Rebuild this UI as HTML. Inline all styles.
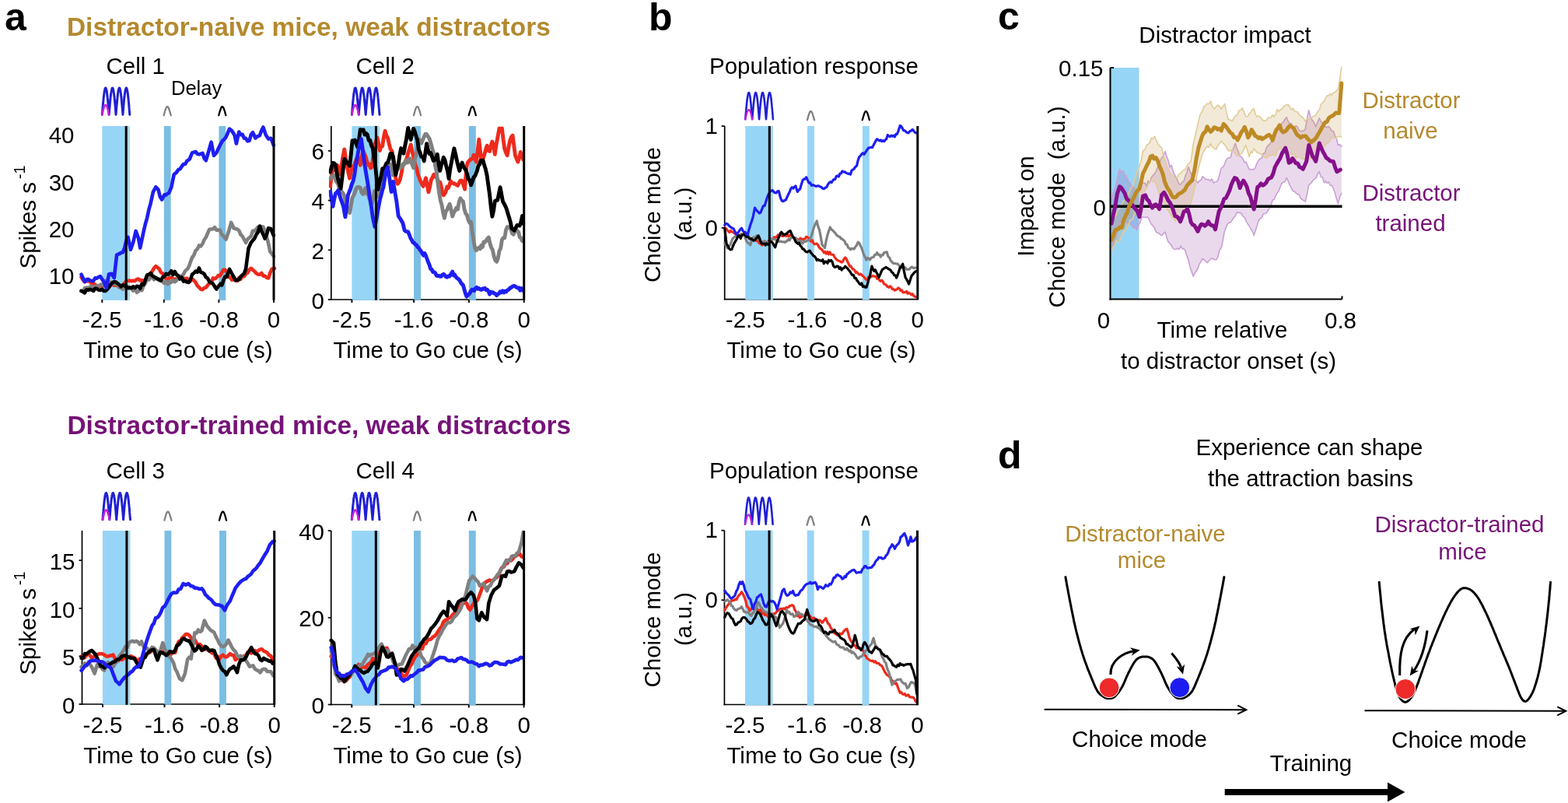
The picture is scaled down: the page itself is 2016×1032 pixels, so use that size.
<!DOCTYPE html>
<html><head><meta charset="utf-8"><style>html,body{margin:0;padding:0;background:#fff;overflow:hidden;}svg{display:block;}</style></head>
<body><svg width="2016" height="1032" viewBox="0 0 2016 1032" font-family="Liberation Sans, Arial, sans-serif"><text x="6" y="39" font-size="50" font-weight="bold" fill="#000" text-anchor="start">a</text>
<text x="834" y="39" font-size="50" font-weight="bold" fill="#000" text-anchor="start">b</text>
<text x="1283" y="38" font-size="50" font-weight="bold" fill="#000" text-anchor="start">c</text>
<text x="1283" y="602" font-size="50" font-weight="bold" fill="#000" text-anchor="start">d</text>
<text x="86" y="46" font-size="33.4" font-weight="bold" fill="#b4892e" text-anchor="start">Distractor-naive mice, weak distractors</text>
<text x="86.5" y="558.2" font-size="33.4" font-weight="bold" fill="#761278" text-anchor="start">Distractor-trained mice, weak distractors</text>
<rect x="131.3" y="162.0" width="35.3" height="223.9" fill="#97d5f7"/>
<rect x="162.6" y="162.0" width="4.0" height="223.9" fill="#a9d8e6"/>
<rect x="210.8" y="162.0" width="8.8" height="223.9" fill="#7bbde3"/>
<rect x="281.4" y="162.0" width="8.8" height="223.9" fill="#7bbde3"/>
<line x1="425.8" y1="162.0" x2="425.8" y2="385.8" stroke="#000" stroke-width="1.7"/>
<line x1="425.0" y1="385.0" x2="673.7" y2="385.0" stroke="#000" stroke-width="1.7"/>
<rect x="452.4" y="162.0" width="35.4" height="223.9" fill="#97d5f7"/>
<rect x="483.8" y="162.0" width="4.0" height="223.9" fill="#a9d8e6"/>
<rect x="532.1" y="162.0" width="8.9" height="223.9" fill="#7bbde3"/>
<rect x="602.9" y="162.0" width="8.9" height="223.9" fill="#7bbde3"/>
<line x1="105.5" y1="682.0" x2="105.5" y2="905.8" stroke="#000" stroke-width="1.7"/>
<line x1="104.7" y1="905.0" x2="352.7" y2="905.0" stroke="#000" stroke-width="1.7"/>
<rect x="132.0" y="682.0" width="35.3" height="223.9" fill="#97d5f7"/>
<rect x="163.3" y="682.0" width="4.0" height="223.9" fill="#a9d8e6"/>
<rect x="211.5" y="682.0" width="8.8" height="223.9" fill="#7bbde3"/>
<rect x="282.1" y="682.0" width="8.8" height="223.9" fill="#7bbde3"/>
<line x1="425.7" y1="682.0" x2="425.7" y2="906.3" stroke="#000" stroke-width="1.7"/>
<line x1="424.9" y1="905.5" x2="673.6" y2="905.5" stroke="#000" stroke-width="1.7"/>
<rect x="452.3" y="682.0" width="35.4" height="224.4" fill="#97d5f7"/>
<rect x="483.7" y="682.0" width="4.0" height="224.4" fill="#a9d8e6"/>
<rect x="532.0" y="682.0" width="8.9" height="224.4" fill="#7bbde3"/>
<rect x="602.8" y="682.0" width="8.9" height="224.4" fill="#7bbde3"/>
<line x1="931.7" y1="162.0" x2="931.7" y2="385.4" stroke="#000" stroke-width="1.7"/>
<line x1="930.9" y1="384.6" x2="1179.8" y2="384.6" stroke="#000" stroke-width="1.7"/>
<rect x="958.3" y="162.0" width="35.4" height="223.5" fill="#97d5f7"/>
<rect x="989.7" y="162.0" width="4.0" height="223.5" fill="#a9d8e6"/>
<rect x="1038.0" y="162.0" width="8.9" height="223.5" fill="#97d5f7"/>
<rect x="1108.9" y="162.0" width="8.9" height="223.5" fill="#97d5f7"/>
<line x1="931.4" y1="681.7" x2="931.4" y2="906.3" stroke="#000" stroke-width="1.7"/>
<line x1="930.6" y1="905.5" x2="1179.5" y2="905.5" stroke="#000" stroke-width="1.7"/>
<rect x="958.0" y="681.7" width="35.4" height="224.7" fill="#97d5f7"/>
<rect x="989.4" y="681.7" width="4.0" height="224.7" fill="#a9d8e6"/>
<rect x="1037.7" y="681.7" width="8.9" height="224.7" fill="#97d5f7"/>
<rect x="1108.6" y="681.7" width="8.9" height="224.7" fill="#97d5f7"/>
<text x="136.5" y="94.6" font-size="29.5" fill="#000" text-anchor="start">Cell 1</text>
<text x="457.5" y="94.6" font-size="29.5" fill="#000" text-anchor="start">Cell 2</text>
<text x="1046.5" y="94.6" font-size="29.5" fill="#000" text-anchor="middle">Population response</text>
<text x="228.9" y="460.1" font-size="29.5" fill="#000" text-anchor="middle">Time to Go cue (s)</text>
<text x="550" y="460.1" font-size="29.5" fill="#000" text-anchor="middle">Time to Go cue (s)</text>
<text x="1056" y="460.1" font-size="29.5" fill="#000" text-anchor="middle">Time to Go cue (s)</text>
<text x="136.5" y="615.1" font-size="29.5" fill="#000" text-anchor="start">Cell 3</text>
<text x="457.5" y="615.1" font-size="29.5" fill="#000" text-anchor="start">Cell 4</text>
<text x="1046.5" y="615.1" font-size="29.5" fill="#000" text-anchor="middle">Population response</text>
<text x="228.9" y="980.6" font-size="29.5" fill="#000" text-anchor="middle">Time to Go cue (s)</text>
<text x="550" y="980.6" font-size="29.5" fill="#000" text-anchor="middle">Time to Go cue (s)</text>
<text x="1056" y="980.6" font-size="29.5" fill="#000" text-anchor="middle">Time to Go cue (s)</text>
<text x="220" y="122" font-size="25.5" fill="#000" text-anchor="start">Delay</text>
<text x="131.29" y="420.8" font-size="29.5" fill="#000" text-anchor="middle">-2.5</text>
<text x="210.76" y="420.8" font-size="29.5" fill="#000" text-anchor="middle">-1.6</text>
<text x="281.4" y="420.8" font-size="29.5" fill="#000" text-anchor="middle">-0.8</text>
<text x="352.03999999999996" y="420.8" font-size="29.5" fill="#000" text-anchor="middle">0</text>
<text x="452.365" y="420.8" font-size="29.5" fill="#000" text-anchor="middle">-2.5</text>
<text x="532.06" y="420.8" font-size="29.5" fill="#000" text-anchor="middle">-1.6</text>
<text x="602.9" y="420.8" font-size="29.5" fill="#000" text-anchor="middle">-0.8</text>
<text x="673.74" y="420.8" font-size="29.5" fill="#000" text-anchor="middle">0</text>
<text x="958.28" y="420.8" font-size="29.5" fill="#000" text-anchor="middle">-2.5</text>
<text x="1038.02" y="420.8" font-size="29.5" fill="#000" text-anchor="middle">-1.6</text>
<text x="1108.9" y="420.8" font-size="29.5" fill="#000" text-anchor="middle">-0.8</text>
<text x="1179.78" y="420.8" font-size="29.5" fill="#000" text-anchor="middle">0</text>
<text x="131.98999999999998" y="941.8" font-size="29.5" fill="#000" text-anchor="middle">-2.5</text>
<text x="211.45999999999998" y="941.8" font-size="29.5" fill="#000" text-anchor="middle">-1.6</text>
<text x="282.09999999999997" y="941.8" font-size="29.5" fill="#000" text-anchor="middle">-0.8</text>
<text x="352.74" y="941.8" font-size="29.5" fill="#000" text-anchor="middle">0</text>
<text x="452.265" y="941.8" font-size="29.5" fill="#000" text-anchor="middle">-2.5</text>
<text x="531.9599999999999" y="941.8" font-size="29.5" fill="#000" text-anchor="middle">-1.6</text>
<text x="602.8" y="941.8" font-size="29.5" fill="#000" text-anchor="middle">-0.8</text>
<text x="673.64" y="941.8" font-size="29.5" fill="#000" text-anchor="middle">0</text>
<text x="957.98" y="941.8" font-size="29.5" fill="#000" text-anchor="middle">-2.5</text>
<text x="1037.72" y="941.8" font-size="29.5" fill="#000" text-anchor="middle">-1.6</text>
<text x="1108.6" y="941.8" font-size="29.5" fill="#000" text-anchor="middle">-0.8</text>
<text x="1179.48" y="941.8" font-size="29.5" fill="#000" text-anchor="middle">0</text>
<text x="95.5" y="184.2" font-size="29.5" fill="#000" text-anchor="end">40</text>
<text x="95.5" y="244.6" font-size="29.5" fill="#000" text-anchor="end">30</text>
<text x="95.5" y="305.0" font-size="29.5" fill="#000" text-anchor="end">20</text>
<text x="95.5" y="365.40000000000003" font-size="29.5" fill="#000" text-anchor="end">10</text>
<text x="417" y="205.45714285714286" font-size="29.5" fill="#000" text-anchor="end">6</text>
<text x="417" y="269.1714285714286" font-size="29.5" fill="#000" text-anchor="end">4</text>
<text x="417" y="332.8857142857143" font-size="29.5" fill="#000" text-anchor="end">2</text>
<text x="417" y="396.6" font-size="29.5" fill="#000" text-anchor="end">0</text>
<text x="96.5" y="732.2933701657458" font-size="29.5" fill="#000" text-anchor="end">15</text>
<text x="96.5" y="793.8955801104972" font-size="29.5" fill="#000" text-anchor="end">10</text>
<text x="96.5" y="855.4977900552486" font-size="29.5" fill="#000" text-anchor="end">5</text>
<text x="96.5" y="917.1" font-size="29.5" fill="#000" text-anchor="end">0</text>
<text x="417" y="693.6" font-size="29.5" fill="#000" text-anchor="end">40</text>
<text x="417" y="805.35" font-size="29.5" fill="#000" text-anchor="end">20</text>
<text x="417" y="917.1" font-size="29.5" fill="#000" text-anchor="end">0</text>
<text x="923" y="171.6" font-size="29.5" fill="#000" text-anchor="end">1</text>
<text x="923" y="691.3000000000001" font-size="29.5" fill="#000" text-anchor="end">1</text>
<text x="923" y="302.5411764705883" font-size="29.5" fill="#000" text-anchor="end">0</text>
<text x="923" y="780.82" font-size="29.5" fill="#000" text-anchor="end">0</text>
<text transform="translate(46,345.5) rotate(-90)" font-size="29.5">Spikes s<tspan dx="4" dy="-14" font-size="19.5">-1</tspan></text>
<text transform="translate(849,363) rotate(-90)" font-size="29.5">Choice mode</text>
<text transform="translate(889,309.5) rotate(-90)" font-size="29.5">(a.u.)</text>
<text transform="translate(46,867.5614999999999) rotate(-90)" font-size="29.5">Spikes s<tspan dx="4" dy="-14" font-size="19.5">-1</tspan></text>
<text transform="translate(849,883.5) rotate(-90)" font-size="29.5">Choice mode</text>
<text transform="translate(889,830.0) rotate(-90)" font-size="29.5">(a.u.)</text>
<polyline points="104.5,356.1 106.7,359.7 108.9,362.1 111.1,361.4 113.4,361.2 115.6,361.6 117.8,364.3 120.1,364.6 122.3,365.6 124.1,367.4 126.0,367.4 127.9,367.8 129.7,366.2 131.6,367.2 133.4,367.1 135.3,365.2 137.1,367.1 139.0,366.5 140.8,368.4 142.7,365.6 144.6,364.8 146.4,366.7 148.3,366.0 150.1,367.1 152.0,366.1 153.8,367.1 155.7,368.3 157.9,366.3 160.2,364.0 162.4,361.0 164.6,361.0 166.8,360.6 169.1,361.3 171.3,360.8 173.5,361.0 175.8,359.0 178.0,358.5 180.2,360.5 182.4,360.1 184.7,362.3 186.9,359.2 189.1,359.0 191.4,353.7 193.6,351.6 195.8,348.6 198.0,344.6 200.3,342.1 202.5,343.8 204.7,345.6 207.0,350.2 209.2,351.3 211.4,355.6 213.6,358.2 215.9,359.1 218.1,356.9 220.3,356.8 222.5,358.3 224.8,359.1 227.0,357.9 229.2,357.5 231.5,355.5 233.7,356.7 235.9,358.4 238.1,357.8 240.4,357.8 242.6,359.7 244.8,361.4 247.1,358.6 249.3,360.4 251.5,362.8 253.7,367.1 256.0,369.2 258.2,371.7 260.4,372.2 262.7,369.9 264.9,369.4 267.1,366.3 269.3,364.5 271.6,363.2 273.8,357.4 276.0,358.3 278.3,357.0 280.5,354.0 282.7,354.4 284.9,351.0 287.2,346.7 289.4,346.9 291.6,350.5 293.9,355.5 296.1,357.0 298.3,359.7 300.5,359.2 302.8,359.8 305.0,361.0 307.2,357.1 309.4,358.9 311.7,354.9 313.9,355.1 316.1,351.9 318.4,350.5 320.6,346.7 322.8,344.8 325.0,346.8 327.3,348.7 329.5,351.3 331.7,352.6 334.0,352.7 336.2,351.0 338.4,354.6 340.6,354.6 342.9,356.8 345.1,357.4 347.3,350.8 349.6,345.7 352.9,344.9" fill="none" stroke="#ee2a1c" stroke-width="4.6" stroke-linejoin="round" stroke-linecap="round"/>
<polyline points="104.5,373.9 106.7,375.0 108.9,370.2 111.1,369.9 113.0,369.6 114.9,370.4 116.7,367.9 118.6,369.0 120.4,368.6 122.3,368.3 124.1,367.8 126.0,367.4 127.9,366.9 129.7,365.5 131.6,366.2 133.4,364.4 135.7,360.7 137.9,364.8 140.1,362.3 142.3,362.5 144.6,364.2 146.8,364.7 149.0,365.0 151.2,366.3 153.5,369.7 155.7,370.0 157.9,371.8 160.2,367.3 162.4,367.0 164.6,368.7 166.8,370.4 169.1,371.4 171.3,373.7 173.5,370.6 175.8,375.9 178.0,374.3 180.2,372.5 182.4,373.2 184.7,366.7 186.9,364.0 189.1,358.2 191.4,359.6 193.6,356.4 195.8,355.7 198.0,359.3 200.3,356.7 202.5,358.2 204.7,360.6 207.0,361.0 209.2,362.0 211.4,364.2 213.6,361.9 215.9,365.1 218.1,361.8 220.3,362.8 222.5,360.3 224.8,362.3 227.0,360.4 229.2,357.6 231.5,354.9 233.7,355.1 235.9,352.5 238.1,348.1 241.5,345.1 243.3,341.4 245.2,335.8 247.1,330.9 249.3,327.8 251.5,322.2 253.7,320.1 256.0,315.5 258.2,316.5 260.4,313.3 262.7,308.0 264.9,304.8 267.1,299.5 269.3,294.7 271.6,294.5 273.8,294.4 276.0,292.2 278.3,295.7 280.5,295.6 282.7,295.6 284.9,301.1 287.2,303.2 290.5,307.7 293.9,297.8 297.2,285.9 300.5,293.3 302.8,293.9 305.0,294.5 307.2,296.2 309.4,301.5 311.7,303.7 313.9,307.9 316.1,312.0 318.4,307.5 320.6,305.4 322.8,303.7 325.0,296.6 327.3,296.7 329.5,294.7 331.7,291.7 334.0,291.5 336.2,291.4 338.4,291.6 340.6,297.3 342.9,304.4 345.1,312.9 347.3,323.5 349.6,326.1 351.8,329.3" fill="none" stroke="#808080" stroke-width="4.6" stroke-linejoin="round" stroke-linecap="round"/>
<polyline points="104.5,373.9 106.7,374.6 108.9,376.4 111.1,372.3 113.4,372.8 115.6,371.9 117.8,372.5 120.1,373.8 122.3,370.7 124.5,371.1 126.7,372.5 129.0,372.9 131.2,371.6 133.4,374.0 135.7,373.9 137.9,371.8 140.1,369.0 142.3,365.8 144.6,363.3 146.8,362.1 149.0,362.5 151.2,364.4 153.5,366.1 155.7,368.4 157.9,366.3 160.2,367.1 162.4,368.6 164.6,370.3 166.8,369.6 169.1,370.1 171.3,368.3 173.5,370.0 175.8,367.8 178.0,368.3 180.2,370.7 182.4,364.8 184.7,365.9 186.9,359.8 189.1,353.5 191.4,352.7 193.6,351.1 195.8,354.4 198.0,355.8 200.3,357.1 202.5,358.8 204.7,358.9 207.0,360.5 209.2,356.3 211.4,355.0 213.6,351.8 215.9,352.6 218.1,351.1 220.3,348.2 222.5,353.2 224.8,349.0 227.0,353.0 229.2,354.4 231.5,358.6 233.7,356.5 235.9,361.7 238.1,360.8 240.4,362.6 242.6,363.1 244.8,359.6 247.1,352.6 249.3,351.0 251.5,348.7 253.7,349.7 256.0,344.5 258.2,350.0 260.4,350.4 262.7,352.2 264.9,356.4 267.1,357.8 269.3,362.3 271.6,363.0 273.8,364.8 276.0,368.1 278.3,371.5 281.6,367.0 283.5,364.8 285.3,366.5 287.2,360.7 289.4,355.5 291.6,355.9 295.0,345.9 298.3,352.0 300.5,355.9 302.8,360.4 305.0,359.8 307.2,359.4 309.4,355.6 311.7,353.4 313.9,351.5 316.1,345.5 319.5,319.3 322.8,311.8 325.0,309.0 327.3,306.4 329.5,301.3 331.7,298.5 334.0,290.5 336.2,297.0 338.4,301.2 340.6,306.5 342.9,301.6 345.1,293.2 348.4,294.3 351.8,302.6" fill="none" stroke="#000" stroke-width="4.6" stroke-linejoin="round" stroke-linecap="round"/>
<polyline points="104.5,352.7 106.7,357.2 108.9,362.2 111.1,359.5 113.4,358.7 115.6,360.4 117.8,361.0 120.1,361.1 122.3,357.3 124.5,357.6 126.7,356.0 129.0,355.2 131.2,358.7 133.4,361.9 136.8,369.9 140.1,352.2 143.4,351.9 146.8,357.0 150.1,327.6 153.5,326.2 155.7,324.8 157.9,324.3 160.2,318.5 162.4,309.0 164.6,304.9 168.0,320.8 171.3,311.2 174.6,296.9 178.0,306.0 180.2,318.6 183.6,302.6 185.4,294.0 187.3,286.3 189.1,280.1 191.4,269.4 193.6,261.6 196.9,246.6 200.3,240.3 203.6,243.9 205.8,252.9 208.1,256.6 211.4,250.2 213.3,250.6 215.1,248.9 217.0,248.4 220.3,240.7 223.7,224.3 227.0,221.4 229.2,218.2 231.5,217.2 233.7,213.9 235.9,211.0 238.1,210.9 240.4,206.9 243.7,204.7 247.1,196.4 249.3,195.6 251.5,195.0 253.7,197.7 256.0,198.4 258.2,197.8 260.4,196.8 262.7,203.8 264.9,206.2 268.2,194.7 271.6,182.7 274.9,199.8 278.3,196.4 280.5,191.5 282.7,186.9 286.1,180.8 287.9,179.4 289.8,177.3 291.6,173.9 295.0,165.6 298.3,168.3 301.6,173.8 303.9,184.5 307.2,169.5 309.4,173.1 311.7,172.8 313.9,177.6 316.1,177.9 318.4,181.4 320.6,180.8 322.8,172.8 325.0,170.3 328.4,177.5 330.2,175.7 332.1,175.0 334.0,174.1 336.2,167.8 338.4,163.5 341.8,173.5 345.1,178.6 348.4,177.8 351.8,186.7" fill="none" stroke="#1e1ef2" stroke-width="4.6" stroke-linejoin="round" stroke-linecap="round"/>
<clipPath id="cp1"><rect x="422.8" y="162" width="253.94" height="226"/></clipPath><g clip-path="url(#cp1)">
<polyline points="424.6,239.2 426.8,221.7 428.5,218.1 430.2,213.2 432.0,212.4 433.7,212.5 435.4,218.7 437.1,223.9 438.8,215.6 440.5,203.5 442.8,192.0 444.5,203.7 446.2,212.5 447.9,221.9 449.6,229.1 451.3,220.9 453.0,213.8 454.7,215.3 456.4,209.3 458.1,205.2 459.8,201.3 461.6,207.5 463.3,212.1 465.0,202.4 466.7,193.6 468.4,197.5 470.1,201.4 471.8,207.7 473.5,212.2 475.0,211.1 476.5,215.9 478.1,214.6 479.8,201.5 481.5,185.0 483.2,182.3 484.9,176.8 486.6,183.7 488.3,193.4 490.0,188.0 491.7,188.0 493.4,176.0 495.1,168.3 496.8,174.1 498.6,177.6 500.3,185.1 502.0,191.6 504.2,194.7 506.0,210.4 507.7,222.3 509.4,232.6 511.1,236.3 512.8,234.4 514.5,230.1 516.2,222.3 517.9,211.1 519.6,210.9 521.3,207.2 523.0,203.3 524.7,196.8 526.4,191.6 528.2,185.9 529.9,194.7 531.6,201.1 533.8,211.8 535.6,216.0 537.3,224.0 539.0,228.5 540.7,232.8 542.4,236.1 544.1,239.5 545.8,233.9 547.5,228.8 549.2,237.6 550.9,246.8 552.6,240.1 554.3,231.4 556.0,228.1 557.8,224.3 559.5,226.5 561.2,228.1 562.7,231.1 564.2,234.7 565.7,234.3 567.2,239.1 568.8,247.9 570.3,250.9 571.8,248.9 573.3,245.7 574.8,240.0 576.3,241.6 577.9,237.8 579.4,232.6 580.9,234.9 582.4,235.6 583.9,235.8 585.5,236.8 587.0,237.5 588.5,238.4 590.0,235.6 591.5,232.5 593.0,231.9 594.6,232.9 596.1,238.8 597.6,243.0 599.9,213.8 601.4,208.8 602.9,206.9 604.4,205.4 605.9,204.3 607.5,204.1 609.0,199.2 610.7,204.0 612.4,208.2 614.1,194.6 615.8,179.2 617.5,194.8 619.2,208.1 620.9,204.1 622.6,199.3 624.3,193.2 626.1,187.2 627.8,193.5 629.5,194.5 631.2,187.0 632.9,182.1 634.6,187.9 636.3,198.4 638.0,186.0 639.7,177.2 642.0,165.0 643.7,166.0 645.4,165.0 647.1,179.3 648.8,191.3 650.5,196.2 652.2,199.7 653.9,189.6 655.7,180.8 657.4,176.2 659.1,174.2 660.8,187.0 662.5,200.1 664.2,204.1 665.9,207.9 667.6,202.8 669.3,195.4 671.0,200.2 672.7,205.1" fill="none" stroke="#ee2a1c" stroke-width="4.9" stroke-linejoin="round" stroke-linecap="round"/>
<polyline points="424.6,230.1 426.1,226.7 427.6,227.4 429.1,225.2 430.6,228.0 432.1,232.9 433.7,234.8 435.2,238.1 436.7,244.6 438.2,245.4 439.7,246.7 441.3,248.8 442.8,252.2 444.5,259.5 446.2,265.4 447.9,269.2 449.6,273.5 451.3,264.3 453.0,253.8 454.7,251.3 456.4,247.0 458.1,242.0 459.8,240.4 461.6,240.5 463.3,241.3 465.0,247.6 466.7,249.4 468.4,244.4 470.1,241.5 471.8,249.2 473.5,250.4 475.0,255.5 476.5,259.1 478.1,262.8 479.8,254.9 481.5,245.5 483.2,249.0 484.9,252.8 486.6,249.1 488.3,247.2 490.0,236.8 491.7,222.2 493.4,220.7 495.1,215.3 496.8,214.5 498.6,214.0 500.3,213.3 502.0,211.4 503.7,214.2 505.4,225.2 507.1,220.7 508.8,218.0 510.3,219.0 511.8,216.5 513.4,214.7 514.9,215.7 516.4,214.1 517.9,210.9 519.4,211.6 520.9,209.5 522.5,205.9 524.0,209.0 525.5,206.3 527.0,203.7 528.5,208.8 530.0,211.4 531.6,215.6 533.3,204.5 535.0,199.7 536.7,189.3 538.4,178.8 540.1,180.9 541.8,184.1 543.5,179.9 545.2,175.7 546.9,172.2 548.6,172.5 550.4,175.7 552.1,178.2 553.8,183.7 555.5,190.2 557.8,197.3 559.5,212.4 561.2,220.1 562.9,235.1 564.6,247.5 566.3,257.7 568.0,263.7 569.7,272.9 571.4,280.2 573.1,271.7 574.8,269.9 576.5,265.5 578.2,262.2 579.9,268.8 581.7,278.0 583.4,273.6 585.1,270.6 586.8,267.0 588.5,269.0 590.2,259.3 591.9,254.9 593.6,257.5 595.3,258.7 597.0,268.6 598.7,274.3 600.4,276.3 602.1,282.7 603.9,286.4 605.6,285.3 607.3,298.7 609.0,309.6 610.7,318.7 612.4,321.8 614.1,319.6 615.8,318.3 617.3,320.0 618.8,315.3 620.4,317.5 621.9,310.9 623.4,311.2 624.9,309.6 626.6,306.7 628.3,305.1 630.0,313.1 631.7,318.1 633.5,321.7 635.2,329.9 636.9,334.6 638.6,336.3 640.3,331.9 642.0,322.4 643.7,319.2 645.4,308.1 647.1,305.7 648.8,305.9 650.5,295.7 652.2,291.7 653.8,291.8 655.3,292.3 656.8,294.7 658.5,300.0 660.2,301.3 661.9,297.7 663.6,294.9 665.1,296.8 666.7,298.3 668.2,305.0 669.7,305.5 671.2,309.5 672.7,309.8" fill="none" stroke="#808080" stroke-width="4.9" stroke-linejoin="round" stroke-linecap="round"/>
<polyline points="424.6,221.0 426.3,214.1 428.0,209.3 429.7,209.8 431.4,211.9 433.1,222.5 434.8,231.0 436.5,236.4 438.2,242.3 440.5,223.2 442.8,204.4 444.5,206.5 446.2,209.5 447.9,210.4 449.6,213.2 451.3,198.1 453.0,180.8 454.7,182.2 456.4,180.1 458.1,185.1 459.8,189.0 461.6,178.6 463.3,166.5 465.5,167.4 467.2,166.8 469.0,173.1 470.7,171.4 472.4,173.1 474.1,180.3 475.8,180.1 477.5,187.1 479.2,190.2 480.9,202.3 482.6,213.3 484.3,230.0 486.0,243.5 488.3,233.0 490.0,226.6 491.7,216.6 493.4,218.5 495.1,214.0 496.8,209.9 498.6,208.9 500.3,204.1 502.0,197.4 503.7,197.5 505.4,200.8 507.1,212.4 508.8,224.8 510.5,216.4 512.2,211.1 513.9,199.5 515.6,190.6 517.3,194.7 519.0,197.1 520.8,187.0 522.5,178.7 524.7,164.5 526.4,172.1 528.2,179.5 529.9,171.8 531.6,165.3 533.3,169.4 535.0,174.9 536.7,180.5 538.4,192.1 540.1,196.2 541.8,201.4 543.5,201.6 545.2,206.9 546.9,196.5 548.6,184.6 550.4,192.8 552.1,197.8 553.8,196.7 555.5,201.3 557.2,206.4 558.9,205.9 560.6,203.1 562.3,198.2 564.0,211.1 565.7,219.4 567.2,212.9 568.8,207.8 570.3,202.3 572.0,205.8 573.7,213.4 575.4,219.7 577.1,229.5 578.8,217.0 580.5,208.3 582.2,199.3 583.9,190.8 585.6,197.8 587.3,205.7 589.1,213.6 590.8,219.5 592.5,212.7 594.2,209.1 595.7,214.0 597.2,216.1 598.7,218.4 600.4,222.6 602.1,230.1 603.9,231.4 605.6,237.8 607.3,233.2 609.0,227.7 610.5,226.6 612.0,223.1 613.5,219.4 615.1,212.5 616.6,211.5 618.1,206.3 619.6,207.4 621.1,206.2 622.6,212.0 624.3,217.3 626.1,225.4 627.8,237.6 629.5,249.7 631.2,265.8 632.9,278.3 634.6,270.6 636.3,258.6 638.0,257.4 639.7,257.2 641.4,248.9 643.1,240.7 644.8,249.6 646.5,259.1 648.3,262.1 650.0,265.4 651.5,269.2 653.0,274.6 654.5,279.2 656.2,285.1 657.9,293.5 659.6,295.0 661.3,296.1 663.1,292.7 664.8,289.5 666.5,289.6 668.2,290.0 669.9,285.0 671.6,277.4 672.7,287.1" fill="none" stroke="#000" stroke-width="4.9" stroke-linejoin="round" stroke-linecap="round"/>
<polyline points="424.6,246.1 426.3,256.4 428.0,265.3 429.7,256.1 431.4,248.7 433.1,247.1 434.8,244.6 436.5,250.5 438.2,256.0 439.9,260.4 441.6,265.7 443.9,278.8 445.6,266.5 447.3,251.2 449.0,246.6 450.7,242.3 452.4,236.4 454.2,232.3 455.9,224.0 457.6,211.5 459.3,202.4 461.0,192.3 462.7,185.3 464.4,178.5 466.7,195.0 469.0,212.6 470.7,222.8 472.4,233.0 474.1,244.1 475.8,256.2 477.5,266.4 479.2,279.0 481.9,291.5 484.9,276.4 486.6,266.4 488.3,257.3 489.8,251.7 491.3,245.6 492.9,240.8 494.6,230.3 496.3,219.2 498.6,215.0 500.8,229.3 503.1,246.5 505.4,233.4 507.7,246.4 509.9,259.2 512.2,277.5 513.9,280.2 515.6,282.7 517.9,286.7 520.2,296.1 521.7,297.2 523.2,297.7 524.7,298.0 526.3,301.8 527.8,306.0 529.3,308.3 530.8,311.5 532.3,311.8 533.8,314.1 535.4,314.8 536.9,317.5 538.4,318.6 539.9,321.0 541.4,322.8 543.0,325.9 544.5,328.1 546.0,325.5 547.5,328.6 549.0,332.8 550.5,336.8 552.1,340.5 553.6,345.5 555.1,346.4 556.6,349.5 558.1,349.7 559.6,350.8 561.2,354.1 562.7,354.6 564.2,354.3 565.7,355.2 567.2,355.2 568.8,353.1 570.3,352.3 571.8,353.8 573.3,355.6 574.8,356.2 576.3,354.8 577.9,355.2 579.4,352.9 581.7,349.2 583.2,353.9 584.7,353.0 586.2,356.0 587.7,357.4 589.2,358.5 590.8,360.1 592.3,362.9 593.8,365.0 595.3,366.2 596.8,371.3 598.4,377.2 599.9,381.1 602.1,378.9 603.7,377.4 605.2,374.5 606.7,372.3 608.2,372.3 609.7,373.6 611.3,370.7 612.8,369.4 614.3,371.2 615.8,370.6 617.3,372.0 618.8,372.5 620.4,371.0 621.9,371.4 623.4,370.4 624.9,372.5 626.4,372.1 628.0,374.4 629.5,378.2 631.0,375.0 632.5,376.0 634.0,375.8 635.5,377.1 637.1,377.8 638.6,379.6 640.1,377.9 641.6,377.2 643.1,374.7 644.7,375.9 646.2,373.8 647.7,375.9 649.2,374.3 650.7,374.9 652.2,373.1 653.8,372.3 655.3,370.6 656.8,369.6 658.3,368.6 659.8,367.7 661.3,367.5 662.9,368.4 664.4,369.3 665.9,370.1 667.4,369.9 668.9,373.2 670.5,370.6 672.7,373.6" fill="none" stroke="#1e1ef2" stroke-width="4.9" stroke-linejoin="round" stroke-linecap="round"/>
</g>
<polyline points="104.6,843.5 106.8,844.3 109.1,844.9 111.4,841.5 113.7,840.3 115.9,842.8 118.2,845.4 120.5,844.0 122.8,842.3 125.0,841.2 127.3,840.4 129.6,840.0 131.9,840.5 134.2,841.6 136.4,843.3 138.7,843.7 141.0,842.7 143.3,842.4 145.5,841.5 147.8,846.4 150.1,848.0 152.4,849.1 154.6,847.0 156.9,847.9 159.2,846.0 161.5,844.5 163.8,844.3 166.0,844.5 168.3,843.2 170.6,844.6 172.9,845.2 175.1,847.6 177.4,849.8 179.7,846.7 182.0,848.4 184.2,843.9 186.5,842.3 188.8,840.2 191.1,839.2 193.4,838.0 195.6,835.3 197.9,834.5 200.2,835.2 202.5,839.7 204.7,838.5 207.0,839.0 209.3,837.1 211.6,837.4 213.8,838.8 216.1,841.4 218.4,842.1 220.7,840.0 223.0,837.5 225.2,838.7 227.5,829.9 229.8,824.4 232.1,823.6 234.3,819.7 236.6,817.6 238.9,815.0 241.2,815.0 243.4,816.6 245.7,819.7 248.0,822.3 250.3,821.9 252.6,826.3 254.8,828.7 257.1,828.1 259.4,830.4 261.7,832.4 263.9,834.7 266.2,832.9 268.5,835.4 270.8,837.7 273.0,839.5 275.3,839.8 277.6,845.5 279.9,843.8 282.1,847.0 284.4,843.3 286.7,841.7 289.0,844.2 291.3,844.3 293.5,842.5 295.8,840.2 298.1,841.7 300.4,842.0 302.6,848.0 304.9,846.4 307.2,844.1 309.5,847.6 311.7,846.1 314.0,843.1 316.3,842.2 318.6,838.1 320.9,838.3 323.1,839.5 325.4,838.3 327.7,836.2 330.0,837.7 332.2,836.0 334.5,834.6 336.8,834.3 339.1,836.8 341.3,837.5 343.6,838.9 345.9,842.1 348.2,842.9 351.6,850.3" fill="none" stroke="#ee2a1c" stroke-width="4.6" stroke-linejoin="round" stroke-linecap="round"/>
<polyline points="104.6,857.1 106.8,855.5 109.1,852.4 111.4,855.4 113.7,850.9 115.9,854.0 118.2,857.7 121.6,865.7 125.0,854.0 127.3,856.6 129.6,856.6 131.9,860.4 134.2,861.5 136.4,855.1 138.7,851.1 141.0,853.1 143.3,853.3 145.5,857.1 147.8,853.0 150.1,850.6 152.4,844.8 154.6,841.7 156.9,838.8 159.2,835.2 161.5,830.9 163.8,831.6 166.0,825.7 168.3,824.4 170.6,823.8 172.9,824.8 175.1,823.8 177.4,825.1 179.7,828.0 182.0,824.5 184.2,830.5 186.5,833.6 188.8,832.8 191.1,835.7 193.4,834.8 195.6,831.8 197.9,832.6 200.2,835.7 202.5,837.1 204.7,841.4 207.0,833.7 209.3,826.2 211.6,833.2 213.8,837.6 216.1,842.1 218.4,844.3 220.7,847.6 223.0,851.6 225.2,859.3 227.5,863.5 230.9,872.2 234.3,874.2 237.8,865.9 241.2,847.4 243.4,844.6 245.7,846.6 248.0,830.6 250.3,813.2 252.6,813.7 254.8,809.5 257.1,811.9 259.4,810.6 262.8,797.6 266.2,804.4 268.5,807.3 270.8,809.9 273.0,811.2 275.3,812.9 277.6,818.1 279.9,822.5 282.1,827.3 284.4,829.9 286.7,831.2 289.0,830.2 291.3,827.1 293.5,822.6 295.8,827.0 298.1,832.0 300.4,835.2 302.6,837.2 304.9,842.3 307.2,844.6 309.5,842.9 311.7,844.2 314.0,845.8 316.3,848.9 318.6,852.4 320.9,856.7 323.1,855.9 325.4,855.4 327.7,859.7 330.0,861.1 332.2,862.0 334.5,864.4 336.8,860.9 339.1,859.7 341.3,860.0 343.6,863.0 345.9,863.0 348.2,863.3 351.6,868.5" fill="none" stroke="#808080" stroke-width="4.6" stroke-linejoin="round" stroke-linecap="round"/>
<polyline points="104.6,845.8 106.8,845.9 109.1,840.0 111.4,840.4 113.7,838.6 115.9,836.8 118.2,836.0 120.5,838.4 122.8,841.1 126.2,848.5 129.6,856.0 131.9,856.2 134.2,858.3 136.4,856.5 138.7,854.9 141.0,853.8 143.3,852.2 145.5,850.8 147.8,850.2 150.1,847.8 152.4,847.2 154.6,846.1 156.9,843.2 159.2,842.7 161.5,842.2 163.8,844.5 166.0,844.4 168.3,845.8 170.6,845.9 172.9,846.6 175.1,850.7 177.4,854.7 180.8,857.6 184.2,846.3 186.5,844.9 188.8,840.2 191.1,838.3 193.4,836.2 195.6,835.0 197.9,834.8 200.2,842.1 202.5,848.3 205.9,838.3 209.3,839.3 211.6,840.4 213.8,842.1 216.1,840.3 218.4,837.1 220.7,838.0 223.0,838.4 225.2,835.3 227.5,829.6 229.8,828.5 232.1,825.5 234.3,821.6 236.6,820.7 238.9,822.4 241.2,823.4 243.4,823.6 245.7,827.9 248.0,832.5 250.3,836.6 252.6,834.8 254.8,829.9 257.1,831.8 259.4,835.9 261.7,834.7 263.9,830.9 266.2,832.5 268.5,836.4 270.8,835.8 273.0,835.5 275.3,836.2 277.6,842.1 279.9,846.7 282.1,854.0 284.4,858.6 286.7,861.7 289.0,863.0 291.3,867.3 293.5,862.7 295.8,859.6 298.1,858.7 300.4,856.4 302.6,859.6 304.9,864.2 307.2,853.8 309.5,848.2 311.7,848.5 314.0,847.4 316.3,844.5 318.6,839.3 320.9,836.1 323.1,832.1 325.4,836.7 327.7,839.9 330.0,840.5 332.2,842.2 334.5,847.7 336.8,849.0 339.1,845.9 341.3,847.6 343.6,848.1 345.9,849.6 348.2,849.5 350.5,852.6" fill="none" stroke="#000" stroke-width="4.6" stroke-linejoin="round" stroke-linecap="round"/>
<polyline points="104.6,861.7 106.8,859.2 109.1,856.0 111.4,854.6 113.7,852.3 115.9,849.5 118.2,848.9 120.5,848.9 122.8,848.6 125.0,849.3 127.3,850.3 129.6,850.2 131.9,850.8 134.2,852.2 136.4,855.3 138.7,856.3 141.0,857.1 143.3,860.2 145.5,866.1 149.0,875.3 151.2,877.0 153.5,879.4 156.9,874.5 160.3,870.5 162.2,869.1 164.1,867.6 166.0,866.0 168.3,863.7 170.6,862.2 172.9,858.9 175.1,857.0 177.4,857.1 179.7,854.0 183.1,843.0 186.5,831.0 188.8,823.2 191.1,816.3 193.4,809.9 195.6,803.9 197.9,801.0 200.2,794.0 202.5,793.7 204.7,790.8 207.0,786.5 209.3,780.6 211.6,779.2 213.8,775.6 216.1,770.8 218.4,766.3 220.7,762.9 223.0,761.6 225.2,761.8 227.5,761.5 229.8,757.2 232.1,756.9 235.5,750.2 238.9,751.7 242.3,750.2 245.7,753.3 248.0,753.5 250.3,755.6 252.6,755.5 254.8,756.5 257.1,757.1 259.4,756.4 261.7,759.3 263.9,764.0 266.2,766.1 268.5,768.7 270.8,770.1 273.0,772.6 275.3,775.5 277.6,777.1 279.9,777.3 282.1,777.6 285.6,779.2 289.0,784.4 291.3,778.8 293.5,775.5 295.8,772.4 298.1,766.5 300.4,761.3 302.6,755.9 304.9,752.8 307.2,749.9 309.5,747.4 311.7,745.9 314.0,744.5 316.3,743.8 318.6,740.9 320.9,739.3 323.1,737.4 325.4,733.6 327.7,731.9 330.0,729.6 332.2,726.2 334.5,723.6 336.8,719.2 339.1,715.4 341.3,711.7 343.6,708.2 347.0,700.0 350.5,696.1 352.7,695.5" fill="none" stroke="#1e1ef2" stroke-width="4.6" stroke-linejoin="round" stroke-linecap="round"/>
<polyline points="425.7,843.5 428.0,839.5 430.2,857.2 433.7,869.5 435.9,873.0 438.2,873.4 440.5,874.6 442.8,875.6 445.0,874.9 447.3,871.9 449.6,870.0 451.9,865.9 454.2,862.3 456.4,858.3 458.7,858.0 461.0,854.0 463.3,859.1 465.5,857.3 467.8,857.3 470.1,858.2 472.4,854.5 474.6,852.9 476.9,851.3 479.2,846.2 481.5,849.0 483.8,846.0 486.0,840.8 488.3,833.2 490.6,833.7 492.9,836.4 495.1,833.2 497.4,832.8 499.7,837.8 502.0,842.9 504.2,841.8 506.5,849.8 508.8,854.1 511.1,860.5 513.4,860.5 515.6,864.4 517.9,870.5 520.2,868.4 522.5,867.8 524.7,862.4 527.0,856.6 529.3,853.6 531.6,848.3 533.8,844.1 536.1,842.2 538.4,836.5 540.7,832.7 543.0,833.9 545.2,826.8 547.5,827.2 549.8,822.9 552.1,821.6 554.3,821.4 556.6,818.6 558.9,817.5 561.2,814.8 563.4,811.2 565.7,807.9 568.0,804.8 570.3,798.9 572.6,796.9 574.8,796.6 577.1,794.0 579.4,793.6 581.7,790.3 583.9,788.4 586.2,784.3 588.5,780.1 590.8,780.3 593.0,775.6 595.3,775.8 597.6,774.7 599.9,775.0 602.1,781.2 604.4,783.8 606.7,779.1 609.0,775.7 611.3,772.0 613.5,772.1 615.8,766.8 618.1,760.5 620.4,753.9 622.6,750.2 624.9,747.7 627.2,746.6 629.5,745.5 631.7,746.8 634.0,746.1 636.3,743.4 638.6,742.2 640.9,740.1 643.1,734.3 645.4,729.2 647.7,728.6 650.0,724.3 652.2,724.3 654.5,719.6 656.8,720.4 659.1,718.4 661.3,715.3 663.6,714.3 665.9,712.7 668.2,711.7 670.5,715.3 672.7,716.0" fill="none" stroke="#ee2a1c" stroke-width="4.6" stroke-linejoin="round" stroke-linecap="round"/>
<polyline points="425.7,836.7 429.1,848.7 431.4,866.6 433.7,868.9 435.9,875.3 438.2,870.2 440.5,870.9 442.8,871.9 445.0,871.6 447.3,869.3 449.6,865.1 451.9,866.9 454.2,862.4 456.4,861.7 458.7,859.5 461.0,857.2 463.3,854.3 465.5,854.4 467.8,850.4 471.2,844.6 473.1,841.0 475.0,842.7 476.9,841.0 478.8,840.9 480.7,840.0 482.6,839.5 484.9,835.4 487.2,832.2 490.6,827.7 494.0,834.7 496.3,835.6 498.6,836.3 500.8,840.6 503.1,842.6 505.4,850.4 507.7,853.6 509.9,855.5 512.2,854.8 514.5,853.5 516.8,853.2 519.0,848.3 521.3,842.8 523.6,838.5 525.9,834.0 528.2,834.0 530.4,829.5 532.7,834.0 535.0,831.7 537.3,835.7 539.5,836.9 541.8,843.8 544.1,846.4 546.4,850.9 548.6,852.9 550.9,852.8 553.2,852.4 555.5,845.5 557.8,838.6 560.0,832.0 562.3,823.1 564.6,817.6 566.9,814.3 569.1,809.4 571.4,806.0 573.7,802.3 576.0,799.8 578.2,800.4 580.5,798.9 582.8,794.5 585.1,792.1 587.3,789.8 589.6,786.7 591.9,783.1 594.2,777.3 596.5,769.9 598.7,764.6 601.0,754.8 603.3,746.2 605.6,743.2 607.8,740.7 610.1,742.8 612.4,745.6 614.7,747.9 616.9,752.8 619.2,751.7 621.5,750.0 623.8,754.2 626.1,759.4 628.3,753.7 630.6,752.6 632.9,747.4 635.2,745.1 637.4,742.3 639.7,738.5 642.0,735.9 644.3,731.6 646.5,728.8 648.8,724.4 651.1,719.8 653.4,721.0 655.7,720.1 657.9,714.9 660.2,714.2 662.5,714.6 664.8,710.8 667.0,709.3 670.5,697.5 672.7,684.1" fill="none" stroke="#808080" stroke-width="4.6" stroke-linejoin="round" stroke-linecap="round"/>
<polyline points="425.7,823.0 429.1,826.1 431.4,851.9 433.7,866.6 435.9,868.9 438.2,871.7 440.5,872.3 442.8,876.0 445.0,872.7 447.3,869.9 449.6,867.3 451.9,863.4 454.2,861.6 456.4,856.0 458.7,858.1 461.0,860.9 463.3,861.2 465.5,863.7 467.8,864.9 470.1,863.6 472.4,862.9 474.6,860.3 476.9,857.2 479.2,853.0 482.6,851.3 486.0,858.4 489.4,838.3 491.7,831.9 495.1,838.4 497.4,844.1 499.7,844.5 502.0,841.0 504.2,839.7 507.7,851.8 509.9,867.4 512.2,866.9 515.6,860.1 517.9,860.6 520.2,862.6 523.6,856.2 527.0,848.1 529.3,843.1 531.6,840.0 533.8,836.9 536.1,834.9 538.4,833.2 540.7,828.0 543.0,825.2 545.2,821.6 547.5,820.0 549.8,816.6 552.1,812.3 554.3,807.7 556.6,805.6 558.9,802.8 562.3,798.2 565.7,791.8 568.0,788.2 570.3,785.6 572.6,787.8 574.8,791.3 577.1,773.3 579.4,777.0 581.7,779.6 585.1,784.7 587.3,777.5 589.6,773.0 591.9,771.9 594.2,770.1 596.5,770.8 598.7,770.5 602.1,764.9 605.6,761.2 609.0,765.2 611.3,775.0 613.5,795.5 615.8,797.3 619.2,787.3 622.6,793.4 626.1,796.1 628.3,775.3 631.7,764.6 635.2,758.2 638.6,755.8 642.0,752.7 645.4,740.2 647.7,739.9 650.0,740.8 652.2,734.5 654.5,734.0 656.8,735.4 659.1,734.9 661.3,734.3 663.6,729.4 667.0,723.3 670.5,725.8 672.7,729.6" fill="none" stroke="#000" stroke-width="4.6" stroke-linejoin="round" stroke-linecap="round"/>
<polyline points="425.7,832.1 428.0,838.2 430.2,857.0 433.7,864.7 435.9,865.2 438.2,869.0 440.5,868.1 442.8,869.1 445.0,867.2 447.3,866.2 449.6,865.4 451.9,863.6 454.2,862.2 456.4,860.4 459.8,864.8 463.3,871.0 466.7,876.7 470.1,884.7 473.5,889.1 476.9,879.9 480.3,873.8 482.6,871.4 484.9,867.6 487.2,867.0 489.4,863.7 491.3,862.9 493.2,862.1 495.1,861.5 497.4,860.4 499.7,857.5 502.0,857.5 504.2,856.6 506.5,858.0 508.8,859.0 511.1,863.1 513.4,866.6 515.6,872.4 519.0,875.4 521.3,873.1 523.6,873.0 525.9,871.1 528.2,868.3 530.0,869.1 531.9,867.2 533.8,865.7 536.1,864.1 538.4,861.2 540.3,861.5 542.2,860.7 544.1,860.5 546.4,857.2 548.6,856.6 552.1,855.2 554.3,852.9 556.6,850.7 558.9,848.7 561.2,847.4 563.4,846.2 565.7,844.8 568.0,845.2 570.3,845.1 572.6,846.0 574.8,848.3 577.1,849.1 579.4,849.0 581.7,848.5 583.9,850.1 586.2,849.3 588.5,846.5 590.8,846.0 593.0,845.0 595.3,847.2 597.6,847.3 599.9,848.3 602.1,850.8 604.4,851.0 606.7,850.5 609.0,851.7 611.3,853.1 613.5,853.5 615.8,856.2 618.1,854.5 620.4,854.6 622.6,853.5 624.9,852.6 627.2,853.6 629.5,855.6 631.7,854.9 634.0,852.4 636.3,851.1 638.6,851.2 640.9,852.0 643.1,853.5 645.4,853.5 647.7,853.7 650.0,854.2 652.2,850.7 654.5,850.1 656.8,851.1 659.1,850.1 661.3,849.2 663.6,847.8 665.9,848.2 669.3,844.8 672.7,845.8" fill="none" stroke="#1e1ef2" stroke-width="4.6" stroke-linejoin="round" stroke-linecap="round"/>
<polyline points="931.8,292.8 933.3,293.4 934.9,295.5 936.4,297.2 937.9,298.6 939.4,296.5 940.9,297.8 942.5,298.4 944.0,299.7 945.5,300.6 947.0,300.3 948.5,302.5 950.0,301.7 951.6,302.8 953.1,300.7 954.6,301.0 956.1,301.9 957.6,302.1 959.2,302.5 960.7,303.0 962.2,303.5 963.7,306.7 965.2,306.6 966.7,308.6 968.3,307.9 969.8,308.6 971.3,308.5 972.8,309.6 974.3,309.1 975.9,312.3 977.4,313.1 978.9,314.3 980.4,315.0 981.9,313.4 983.4,311.3 985.0,313.6 986.5,312.4 988.0,309.7 989.5,308.2 991.0,308.3 992.5,308.5 994.1,306.5 995.6,304.6 997.1,305.3 998.6,304.8 1000.1,301.9 1001.7,303.7 1003.2,302.1 1004.7,303.0 1006.2,303.5 1007.7,303.1 1009.2,301.6 1010.8,303.4 1012.3,301.7 1013.8,303.7 1015.3,302.0 1016.8,304.1 1018.4,304.8 1019.9,305.0 1021.4,306.2 1022.9,306.7 1024.4,308.5 1025.9,307.6 1027.5,308.6 1029.0,306.1 1030.5,307.8 1032.0,307.3 1033.5,307.3 1035.0,307.0 1036.6,304.4 1038.1,304.8 1039.6,306.1 1041.1,307.0 1042.6,310.4 1044.2,308.7 1045.7,312.2 1047.2,313.8 1048.7,313.5 1050.2,313.0 1051.7,315.1 1053.3,317.9 1054.8,319.6 1056.3,320.3 1057.8,322.3 1059.3,324.8 1060.9,323.5 1062.4,326.1 1063.9,323.7 1065.4,326.8 1066.9,324.0 1068.4,327.0 1070.0,327.3 1071.5,327.3 1073.0,330.4 1074.5,332.4 1076.0,333.9 1077.6,335.0 1079.1,335.5 1080.6,336.1 1082.1,337.2 1083.6,336.0 1085.1,333.0 1086.7,331.0 1088.2,332.8 1089.7,336.2 1091.2,339.4 1092.7,342.3 1094.2,342.1 1095.8,345.4 1097.3,346.0 1098.8,347.4 1100.3,350.4 1101.8,349.7 1103.4,351.7 1104.9,352.9 1106.4,352.0 1107.9,353.5 1109.4,354.7 1110.9,356.1 1112.5,358.1 1114.0,359.5 1115.5,358.2 1117.0,355.3 1118.5,356.3 1120.1,355.8 1121.6,354.7 1123.1,354.9 1124.6,355.3 1126.1,355.0 1127.6,358.3 1129.2,358.0 1130.7,360.2 1132.2,361.4 1133.7,360.1 1135.2,361.9 1136.7,365.0 1138.3,365.5 1139.8,366.9 1141.3,368.6 1142.8,369.4 1144.3,367.7 1145.9,369.1 1147.4,371.6 1148.9,371.5 1150.4,373.2 1151.9,372.5 1153.4,371.5 1155.0,370.0 1156.5,371.0 1158.0,373.6 1159.5,373.0 1161.0,375.9 1162.6,375.7 1164.1,375.6 1165.6,374.5 1167.1,377.4 1168.6,376.1 1170.1,377.2 1171.7,378.9 1173.2,377.8 1174.7,380.0 1176.2,381.3 1177.7,381.5" fill="none" stroke="#ee2a1c" stroke-width="3.2" stroke-linejoin="round" stroke-linecap="round"/>
<polyline points="931.8,312.1 933.5,315.4 935.2,318.8 937.0,316.6 938.7,315.0 940.2,311.2 941.7,307.0 943.2,305.6 944.7,304.3 946.3,303.6 947.8,303.1 949.3,302.4 950.8,302.5 952.3,301.3 953.8,301.6 955.4,301.6 956.9,302.1 958.4,306.3 959.9,310.2 961.4,312.1 963.1,313.1 964.8,314.9 966.6,308.5 968.3,305.0 969.8,305.0 971.3,304.5 972.8,302.8 974.3,305.6 975.9,307.8 977.4,310.5 978.9,309.6 980.4,311.9 981.9,310.7 983.4,309.7 985.0,311.6 986.5,311.3 988.0,311.4 989.5,309.7 991.0,306.5 992.5,308.3 994.1,306.6 995.6,307.5 997.1,308.0 998.6,309.2 1000.1,310.6 1001.7,310.4 1003.2,310.1 1004.7,310.4 1006.2,311.0 1007.7,310.8 1009.2,311.5 1010.8,310.2 1012.3,309.5 1013.8,307.3 1015.3,308.9 1016.8,305.3 1018.4,304.3 1019.9,306.0 1021.4,306.6 1022.9,305.7 1024.4,307.5 1025.9,309.6 1027.5,309.7 1029.0,309.3 1030.5,310.9 1032.0,313.0 1033.5,310.0 1035.0,310.6 1036.6,310.1 1038.1,308.8 1039.6,309.0 1041.1,308.1 1043.4,302.8 1045.1,296.7 1046.8,291.1 1048.5,287.7 1050.2,284.0 1051.9,291.3 1053.6,295.7 1055.4,305.2 1057.1,315.1 1058.8,316.0 1060.5,318.7 1062.2,309.3 1063.9,302.0 1065.6,296.8 1067.3,292.0 1069.0,295.0 1070.7,296.1 1072.2,297.9 1073.8,299.4 1075.3,301.7 1076.8,303.0 1078.3,304.0 1079.8,304.4 1081.3,306.8 1082.9,307.1 1084.4,308.7 1085.9,309.8 1087.4,313.9 1088.9,314.1 1090.5,318.1 1092.0,319.0 1093.5,320.7 1095.0,319.4 1096.5,319.6 1098.0,320.2 1099.7,317.4 1101.5,315.0 1103.2,311.1 1104.9,312.7 1107.1,317.2 1108.9,321.9 1110.6,327.5 1112.3,330.3 1114.0,334.1 1115.5,331.6 1117.0,332.2 1118.5,333.8 1120.1,331.4 1121.6,330.7 1123.1,330.4 1124.6,327.7 1126.1,327.5 1127.6,324.7 1129.2,327.3 1130.7,327.3 1132.2,330.1 1133.7,327.5 1135.2,327.8 1136.7,324.6 1138.5,324.5 1140.2,323.8 1141.9,329.6 1143.6,331.1 1145.1,335.0 1146.6,336.2 1148.1,338.5 1149.7,338.5 1151.2,338.7 1152.7,339.0 1154.2,339.1 1155.7,341.1 1157.2,341.5 1158.8,344.3 1160.3,342.7 1161.8,344.3 1163.3,343.3 1164.8,345.1 1166.3,346.5 1167.9,346.2 1169.4,346.0 1170.9,343.9 1172.4,343.0 1173.9,344.4 1175.5,344.4 1177.7,344.0" fill="none" stroke="#808080" stroke-width="3.2" stroke-linejoin="round" stroke-linecap="round"/>
<polyline points="931.8,293.9 934.1,313.5 935.8,315.9 937.5,319.6 939.2,320.9 940.9,320.5 942.5,316.0 944.0,312.6 945.5,310.1 947.2,307.4 948.9,303.1 950.6,302.9 952.3,306.5 953.8,302.3 955.4,301.8 956.9,300.2 958.4,302.5 959.9,304.7 961.4,303.9 962.9,305.7 964.5,307.1 966.0,306.5 967.5,308.2 969.0,309.2 970.5,308.6 972.1,306.4 973.6,305.2 975.1,302.8 976.6,306.2 978.1,311.1 979.6,312.9 981.2,313.3 982.7,313.0 984.2,315.2 985.7,312.9 987.2,314.3 988.8,313.2 990.3,310.3 991.8,311.0 993.3,311.9 995.0,315.2 996.7,317.8 998.4,312.1 1000.1,308.2 1001.7,304.0 1003.2,300.1 1004.7,298.2 1006.4,300.5 1008.1,302.2 1009.8,300.8 1011.5,300.4 1013.0,298.5 1014.6,297.2 1016.1,296.6 1017.8,300.7 1019.5,304.1 1021.2,306.2 1022.9,310.6 1024.4,312.0 1025.9,313.3 1027.5,312.2 1029.0,315.8 1030.5,317.2 1032.0,320.1 1033.5,320.2 1035.0,322.4 1036.6,323.7 1038.1,323.9 1039.6,322.7 1041.1,322.1 1042.6,324.8 1044.2,326.6 1045.7,328.7 1047.2,329.3 1048.7,331.2 1050.2,334.5 1051.7,333.4 1053.3,334.6 1054.8,334.8 1056.3,335.4 1057.8,333.7 1059.3,338.7 1060.9,336.1 1062.4,336.4 1063.9,338.4 1065.4,334.3 1066.9,335.7 1068.4,334.4 1070.0,336.2 1071.5,341.5 1073.0,343.3 1074.5,343.1 1076.0,342.1 1077.6,342.3 1079.1,345.3 1080.6,343.6 1082.1,347.0 1083.6,344.9 1085.1,344.4 1086.7,342.3 1088.2,343.7 1089.7,345.1 1091.2,347.0 1092.7,348.8 1094.2,351.3 1095.8,353.7 1097.3,353.4 1098.8,357.4 1100.3,357.3 1101.8,360.5 1103.4,362.0 1104.9,364.7 1106.4,365.8 1107.9,364.0 1109.4,368.6 1110.9,367.7 1112.5,369.3 1114.0,369.2 1115.5,364.6 1117.0,358.7 1118.5,355.0 1120.8,342.0 1122.3,345.4 1123.8,348.4 1125.4,346.8 1126.9,350.2 1128.4,352.8 1129.9,356.4 1131.4,353.4 1133.0,349.3 1134.5,346.3 1136.0,345.4 1137.5,344.3 1139.0,343.5 1140.5,344.3 1142.1,345.4 1143.6,346.3 1145.1,347.2 1146.6,349.9 1148.1,350.8 1149.7,353.6 1151.2,354.1 1152.7,357.0 1154.2,353.2 1155.7,348.8 1157.2,343.8 1158.9,343.1 1160.7,339.2 1162.4,348.7 1164.1,356.6 1165.6,359.0 1167.1,361.8 1168.6,365.0 1170.3,359.8 1172.0,354.4 1173.7,352.6 1175.5,350.2 1177.7,348.5" fill="none" stroke="#000" stroke-width="3.2" stroke-linejoin="round" stroke-linecap="round"/>
<polyline points="931.8,289.3 933.5,287.3 935.2,287.7 937.0,289.7 938.7,291.2 940.2,292.4 941.7,293.3 943.2,294.0 944.9,297.4 946.6,301.3 948.3,299.3 950.0,297.5 951.8,294.9 953.5,293.2 955.2,296.8 956.9,298.2 958.4,298.5 959.9,301.5 961.4,301.5 963.1,294.7 964.8,289.0 966.6,284.0 968.3,278.1 970.5,267.0 972.2,269.9 974.0,271.7 976.2,274.0 977.9,273.1 979.6,269.0 981.4,264.6 983.1,264.6 984.8,258.9 986.5,253.5 988.2,249.5 989.9,246.4 991.6,245.3 993.3,244.6 994.8,246.6 996.3,247.7 997.9,248.0 999.6,245.8 1001.3,245.6 1003.6,254.5 1005.3,258.1 1007.0,258.6 1008.7,257.6 1010.4,256.9 1012.1,253.0 1013.8,249.3 1015.3,246.4 1016.8,242.5 1018.4,240.6 1019.9,242.1 1021.4,240.1 1022.9,239.0 1025.2,246.4 1026.9,244.3 1028.6,243.0 1030.3,237.1 1032.0,231.7 1033.5,230.0 1035.0,230.2 1036.6,227.8 1038.3,231.4 1040.0,235.1 1041.7,234.9 1043.4,238.4 1044.9,237.5 1046.4,238.3 1048.0,239.0 1049.5,239.4 1051.0,238.9 1052.5,238.9 1054.2,239.8 1055.9,240.4 1057.6,242.2 1059.3,242.7 1061.0,241.2 1062.8,240.5 1064.5,237.0 1066.2,234.8 1067.7,233.7 1069.2,234.5 1070.7,232.0 1072.2,230.5 1073.8,230.3 1075.3,226.4 1076.8,225.9 1078.3,227.1 1079.8,223.3 1081.3,222.9 1082.9,220.0 1084.4,220.9 1085.9,220.9 1087.4,221.9 1088.9,222.6 1090.5,223.4 1092.0,223.0 1093.5,224.2 1095.0,219.0 1096.5,218.1 1098.0,217.1 1099.7,214.5 1101.5,213.2 1103.2,205.8 1104.9,201.4 1106.4,200.2 1107.9,197.9 1109.4,196.6 1110.9,198.4 1112.5,196.2 1114.0,193.8 1115.5,191.8 1117.0,189.8 1118.5,189.9 1120.1,189.2 1121.6,189.4 1123.1,186.6 1124.6,183.7 1126.1,180.7 1127.6,178.7 1129.2,179.9 1130.7,180.9 1132.2,180.0 1133.7,181.5 1135.2,180.7 1136.7,181.7 1138.3,179.7 1139.8,178.5 1141.3,173.5 1142.8,174.8 1144.3,175.7 1145.9,174.2 1147.4,175.2 1148.9,174.2 1150.4,175.8 1151.9,172.4 1153.4,172.4 1155.0,168.3 1157.2,161.5 1158.8,162.4 1160.3,165.1 1161.8,167.7 1163.3,167.9 1164.8,169.3 1166.3,170.5 1168.1,170.8 1169.8,168.8 1171.5,168.0 1173.2,166.4 1174.7,168.1 1176.2,170.1 1177.7,170.9" fill="none" stroke="#1e1ef2" stroke-width="3.2" stroke-linejoin="round" stroke-linecap="round"/>
<polyline points="931.8,784.3 933.5,780.9 935.2,778.5 937.0,776.1 938.7,774.3 940.4,771.9 942.1,771.8 943.8,771.4 945.5,770.2 947.0,770.5 948.5,767.3 950.0,764.9 951.8,763.4 953.5,760.8 955.2,763.4 956.9,767.0 958.6,771.7 960.3,779.2 962.0,780.7 963.7,785.0 965.2,783.7 966.7,781.1 968.3,782.2 969.8,782.6 971.3,783.1 972.8,781.0 974.3,783.9 975.9,784.9 977.4,783.6 978.9,786.3 980.4,788.8 981.9,787.3 983.4,790.3 985.0,788.4 986.5,791.5 988.0,792.8 989.5,791.0 991.0,791.9 992.5,788.9 994.1,789.1 995.6,788.5 997.1,788.3 998.6,785.7 1000.1,785.2 1001.7,783.6 1003.2,782.3 1004.7,782.3 1006.2,782.4 1007.7,781.9 1009.2,782.9 1010.8,780.6 1012.3,780.9 1013.8,780.5 1015.3,778.5 1016.8,778.4 1018.4,777.6 1020.1,778.4 1021.8,783.7 1023.5,786.4 1025.2,791.8 1026.7,788.9 1028.2,793.8 1029.7,792.9 1031.3,791.6 1032.8,791.6 1034.3,791.9 1035.8,788.5 1037.3,790.4 1038.8,787.3 1040.4,791.3 1041.9,792.0 1043.4,794.4 1044.9,794.8 1046.4,793.9 1048.0,795.1 1049.5,796.8 1051.0,796.7 1052.5,797.8 1054.0,796.8 1055.5,798.5 1057.1,800.4 1058.6,798.1 1060.1,796.8 1061.6,794.5 1063.1,797.7 1064.6,801.4 1066.2,802.4 1067.7,806.1 1069.2,808.1 1070.7,811.1 1072.2,813.2 1073.8,814.0 1075.3,815.4 1076.8,816.3 1078.3,815.7 1079.8,814.0 1081.3,815.2 1082.9,814.4 1084.4,811.7 1085.9,810.2 1087.4,808.8 1088.9,808.3 1090.5,813.5 1092.0,819.2 1093.5,822.8 1095.0,824.9 1096.5,826.3 1098.0,829.7 1099.6,829.6 1101.1,832.9 1102.6,832.3 1104.1,831.8 1105.6,833.6 1107.1,833.7 1108.7,835.0 1110.2,836.7 1111.7,842.2 1113.2,842.9 1114.7,846.3 1116.3,846.9 1117.8,848.2 1119.3,849.1 1120.8,849.3 1122.3,849.1 1123.8,851.1 1125.4,849.8 1126.9,852.2 1128.4,852.3 1129.9,852.6 1131.4,854.5 1133.0,855.2 1134.5,856.9 1136.0,860.3 1137.5,863.3 1139.0,865.5 1140.5,867.7 1142.1,868.0 1143.6,869.9 1145.1,870.2 1146.6,875.3 1148.1,875.4 1149.7,877.8 1151.2,878.9 1152.7,878.4 1154.2,882.6 1155.7,887.0 1157.2,890.3 1158.8,889.6 1160.3,892.0 1161.8,892.4 1163.3,891.5 1164.8,894.2 1166.3,893.6 1167.9,893.0 1169.4,895.7 1170.9,895.9 1172.4,896.2 1173.9,896.2 1175.5,897.6 1177.2,901.5 1178.9,902.7" fill="none" stroke="#ee2a1c" stroke-width="3.2" stroke-linejoin="round" stroke-linecap="round"/>
<polyline points="931.8,772.9 933.5,772.1 935.2,770.6 937.0,772.7 938.7,774.2 940.4,778.3 942.1,779.4 943.8,782.5 945.5,784.0 947.0,784.5 948.5,782.7 950.0,782.4 951.8,781.6 953.5,779.6 955.2,783.0 956.9,786.5 958.4,786.7 959.9,787.1 961.4,786.8 962.9,788.2 964.5,790.3 966.0,791.3 967.5,787.9 969.0,787.8 970.5,782.8 972.1,783.0 973.6,776.9 975.1,774.0 976.6,776.8 978.1,780.6 979.6,781.2 981.2,784.2 982.7,785.9 984.2,786.0 985.7,787.2 987.2,788.6 988.8,789.2 990.3,789.1 991.8,788.8 993.3,790.6 994.8,791.1 996.3,792.7 997.9,793.4 999.4,797.3 1000.9,801.6 1002.4,806.5 1003.9,804.9 1005.4,802.9 1007.0,800.6 1008.5,795.8 1010.0,790.5 1011.5,783.9 1013.0,786.9 1014.6,786.3 1016.1,789.3 1017.6,789.5 1019.1,788.8 1020.6,792.5 1022.1,792.2 1023.7,790.6 1025.2,787.5 1026.7,786.7 1028.2,789.5 1029.7,789.1 1031.3,789.7 1032.8,791.2 1034.3,791.8 1035.8,795.7 1037.3,796.0 1038.8,798.9 1040.4,800.7 1041.9,802.9 1043.4,803.1 1044.9,804.1 1046.4,805.2 1048.0,805.5 1049.5,805.0 1051.0,806.5 1052.5,807.2 1054.0,808.1 1055.5,810.0 1057.1,811.5 1058.6,811.9 1060.1,813.3 1061.6,816.2 1063.1,818.3 1064.6,820.0 1066.2,821.8 1067.7,822.6 1069.2,823.9 1070.7,824.8 1072.2,824.9 1073.8,824.1 1075.3,827.3 1076.8,828.9 1078.3,829.0 1079.8,831.5 1081.3,831.9 1082.9,832.1 1084.4,832.0 1085.9,834.4 1087.4,834.9 1088.9,833.2 1090.5,835.5 1092.0,837.0 1093.5,835.9 1095.0,839.1 1096.5,838.0 1098.0,839.5 1099.6,840.9 1101.1,843.7 1102.6,846.0 1104.1,846.4 1105.6,844.0 1107.1,844.0 1108.7,842.6 1110.2,840.2 1111.7,839.3 1113.2,836.1 1114.7,834.7 1116.3,833.9 1117.8,830.6 1119.3,829.0 1120.8,827.3 1123.1,820.1 1125.4,829.2 1126.9,830.5 1128.4,833.3 1129.9,834.2 1131.4,835.2 1133.0,841.2 1134.5,844.8 1136.0,847.1 1137.5,850.6 1139.0,851.9 1140.5,858.6 1142.1,862.3 1143.6,866.2 1145.3,874.2 1147.0,880.2 1148.7,876.9 1150.4,875.4 1151.9,875.1 1153.4,873.6 1155.0,873.4 1156.5,873.3 1158.0,873.0 1159.5,876.4 1161.0,877.3 1162.6,878.8 1164.1,878.4 1166.3,884.4 1168.1,883.3 1169.8,879.5 1171.5,876.6 1173.2,877.3 1174.9,877.6 1176.6,880.4 1178.9,893.6" fill="none" stroke="#808080" stroke-width="3.2" stroke-linejoin="round" stroke-linecap="round"/>
<polyline points="931.8,793.4 933.5,789.7 935.2,787.6 937.0,788.6 938.7,791.5 940.4,794.4 942.1,795.3 943.8,800.1 945.5,803.3 947.2,802.7 948.9,800.0 950.6,799.4 952.3,798.4 953.8,794.9 955.4,793.5 956.9,793.4 958.4,794.4 959.9,795.8 961.4,798.7 962.9,799.5 964.5,801.5 966.0,801.2 967.5,799.4 969.0,795.9 970.5,794.6 972.2,790.3 974.0,786.5 975.7,787.6 977.4,789.2 979.1,793.0 980.8,797.1 982.5,799.6 984.2,802.8 985.9,802.8 987.6,801.0 989.3,794.1 991.0,789.4 992.7,791.2 994.4,794.2 996.2,799.7 997.9,804.6 999.4,800.4 1000.9,795.9 1002.4,790.3 1004.1,786.2 1005.8,785.3 1007.5,788.0 1009.2,790.5 1011.0,797.3 1012.7,802.6 1014.4,806.8 1016.1,810.6 1017.8,813.2 1019.5,814.2 1021.2,812.7 1022.9,808.5 1024.6,804.9 1026.3,801.4 1028.0,801.5 1029.7,800.7 1031.3,798.5 1032.8,797.4 1034.3,796.4 1036.0,789.9 1037.7,783.3 1039.4,789.7 1041.1,795.9 1042.6,797.3 1044.2,798.1 1045.7,798.1 1047.2,798.2 1048.7,796.5 1050.2,796.4 1051.7,799.4 1053.3,803.6 1054.8,804.0 1056.3,806.3 1057.8,809.6 1059.3,813.3 1060.9,811.9 1062.4,812.9 1063.9,814.8 1065.4,815.1 1066.9,812.0 1068.4,812.4 1070.0,812.4 1071.5,811.1 1073.0,809.4 1074.5,812.8 1076.0,813.7 1077.6,815.1 1079.1,817.2 1080.6,819.7 1082.1,820.5 1083.6,821.6 1085.1,822.1 1086.7,823.8 1088.2,828.0 1089.7,827.7 1091.2,829.4 1092.7,830.3 1094.2,832.1 1095.8,830.3 1097.5,824.0 1099.2,816.4 1100.9,822.1 1102.6,829.6 1104.1,833.0 1105.6,833.2 1107.1,835.6 1108.7,833.3 1110.2,827.8 1111.7,825.4 1113.2,827.5 1114.7,830.3 1116.3,834.7 1117.8,837.5 1119.3,838.1 1120.8,839.2 1122.3,836.5 1123.8,834.3 1125.4,831.5 1126.9,832.4 1128.4,833.4 1129.9,834.7 1131.4,835.0 1133.0,838.2 1134.5,840.6 1136.0,841.0 1137.5,843.1 1139.0,843.4 1140.5,843.4 1142.1,846.0 1143.6,847.3 1145.1,849.2 1146.6,851.5 1148.1,855.0 1149.7,855.4 1151.2,856.7 1152.7,857.4 1154.2,854.3 1155.7,855.7 1157.2,852.6 1158.8,854.3 1160.3,854.0 1161.8,855.4 1163.3,854.6 1164.8,853.8 1166.3,853.7 1167.9,853.5 1169.4,853.8 1170.9,853.3 1172.4,858.0 1173.9,861.3 1175.5,867.2 1177.7,874.9 1178.9,891.3" fill="none" stroke="#000" stroke-width="3.2" stroke-linejoin="round" stroke-linecap="round"/>
<polyline points="931.8,759.2 933.5,761.9 935.2,763.5 937.0,765.1 938.7,768.0 940.2,769.2 941.7,768.1 943.2,767.2 944.9,765.3 946.6,760.1 948.3,757.2 950.0,751.2 951.6,748.0 953.1,750.4 954.6,747.7 956.3,751.8 958.0,758.9 959.7,761.6 961.4,765.8 963.1,769.0 964.8,770.3 966.6,777.4 968.3,782.5 970.0,776.3 971.7,773.6 973.4,767.7 975.1,766.8 976.8,764.8 978.5,763.9 980.2,769.4 981.9,775.8 983.6,779.3 985.3,780.0 987.0,776.3 988.8,772.4 990.5,771.9 992.2,773.2 993.9,772.6 995.6,774.2 997.3,777.5 999.0,783.1 1000.7,777.5 1002.4,771.9 1004.1,766.0 1005.8,759.3 1008.1,757.0 1009.8,762.3 1011.5,765.3 1013.0,765.1 1014.6,763.7 1016.1,761.0 1017.8,762.1 1019.5,759.4 1021.2,764.2 1022.9,765.3 1024.6,764.7 1026.3,764.6 1028.0,761.6 1029.7,758.9 1031.4,758.0 1033.2,755.1 1034.9,752.5 1036.6,751.1 1038.3,750.2 1040.0,749.8 1041.7,748.2 1043.4,750.2 1044.9,749.1 1046.4,749.3 1048.0,748.2 1049.7,750.8 1051.4,757.5 1053.1,753.8 1054.8,754.0 1056.5,755.3 1058.2,756.5 1059.9,754.9 1061.6,751.7 1063.3,753.2 1065.0,753.2 1066.7,750.4 1068.4,751.0 1070.2,747.4 1071.9,742.4 1073.6,742.4 1075.3,739.4 1076.8,738.5 1078.3,739.8 1079.8,740.2 1081.3,741.5 1082.9,744.1 1084.4,743.5 1085.9,740.7 1087.4,741.8 1088.9,738.0 1090.5,737.1 1092.0,735.3 1093.5,734.6 1095.0,733.3 1096.5,732.8 1098.0,732.4 1099.6,734.1 1101.1,736.2 1102.6,736.0 1104.1,735.5 1105.6,735.4 1107.1,735.6 1108.7,731.7 1110.2,730.2 1111.7,727.6 1113.2,727.5 1114.7,729.8 1116.3,730.2 1117.8,729.6 1119.3,729.6 1120.8,729.2 1122.3,727.0 1123.8,725.8 1125.4,722.1 1126.9,720.1 1128.4,718.9 1129.9,716.2 1131.4,716.9 1133.0,716.5 1134.5,718.2 1136.0,717.7 1137.5,717.1 1139.0,714.1 1140.5,712.9 1142.1,709.7 1143.6,705.1 1145.3,703.0 1147.0,699.7 1148.7,701.5 1150.4,705.4 1151.9,702.3 1153.4,700.3 1155.0,698.9 1156.5,696.3 1158.0,690.0 1159.5,689.5 1161.2,687.1 1162.9,685.4 1165.2,691.1 1167.5,700.9 1169.2,696.5 1170.9,689.9 1172.6,696.0 1174.3,695.3 1176.0,694.2 1177.7,690.9" fill="none" stroke="#1e1ef2" stroke-width="3.2" stroke-linejoin="round" stroke-linecap="round"/>
<line x1="162.2" y1="162.0" x2="162.2" y2="385.8" stroke="#000" stroke-width="3"/>
<line x1="352.0" y1="162.0" x2="352.0" y2="385.8" stroke="#000" stroke-width="3"/>
<line x1="131.3" y1="385.0" x2="131.3" y2="389.0" stroke="#111" stroke-width="2"/>
<line x1="210.8" y1="385.0" x2="210.8" y2="389.0" stroke="#111" stroke-width="2"/>
<line x1="281.4" y1="385.0" x2="281.4" y2="389.0" stroke="#111" stroke-width="2"/>
<line x1="352.0" y1="385.0" x2="352.0" y2="389.0" stroke="#111" stroke-width="2"/>
<line x1="483.4" y1="162.0" x2="483.4" y2="385.8" stroke="#000" stroke-width="3"/>
<line x1="673.7" y1="162.0" x2="673.7" y2="385.8" stroke="#000" stroke-width="3"/>
<line x1="421.8" y1="385.0" x2="425.8" y2="385.0" stroke="#000" stroke-width="1.7"/>
<line x1="421.8" y1="321.3" x2="425.8" y2="321.3" stroke="#000" stroke-width="1.7"/>
<line x1="421.8" y1="257.6" x2="425.8" y2="257.6" stroke="#000" stroke-width="1.7"/>
<line x1="421.8" y1="193.9" x2="425.8" y2="193.9" stroke="#000" stroke-width="1.7"/>
<line x1="452.4" y1="385.0" x2="452.4" y2="389.0" stroke="#111" stroke-width="2"/>
<line x1="532.1" y1="385.0" x2="532.1" y2="389.0" stroke="#111" stroke-width="2"/>
<line x1="602.9" y1="385.0" x2="602.9" y2="389.0" stroke="#111" stroke-width="2"/>
<line x1="673.7" y1="385.0" x2="673.7" y2="389.0" stroke="#111" stroke-width="2"/>
<line x1="162.9" y1="682.0" x2="162.9" y2="905.8" stroke="#000" stroke-width="3"/>
<line x1="352.7" y1="682.0" x2="352.7" y2="905.8" stroke="#000" stroke-width="3"/>
<line x1="101.5" y1="905.0" x2="105.5" y2="905.0" stroke="#000" stroke-width="1.7"/>
<line x1="101.5" y1="843.4" x2="105.5" y2="843.4" stroke="#000" stroke-width="1.7"/>
<line x1="101.5" y1="781.8" x2="105.5" y2="781.8" stroke="#000" stroke-width="1.7"/>
<line x1="101.5" y1="720.2" x2="105.5" y2="720.2" stroke="#000" stroke-width="1.7"/>
<line x1="132.0" y1="905.0" x2="132.0" y2="909.0" stroke="#111" stroke-width="2"/>
<line x1="211.5" y1="905.0" x2="211.5" y2="909.0" stroke="#111" stroke-width="2"/>
<line x1="282.1" y1="905.0" x2="282.1" y2="909.0" stroke="#111" stroke-width="2"/>
<line x1="352.7" y1="905.0" x2="352.7" y2="909.0" stroke="#111" stroke-width="2"/>
<line x1="483.3" y1="682.0" x2="483.3" y2="906.3" stroke="#000" stroke-width="3"/>
<line x1="673.6" y1="682.0" x2="673.6" y2="906.3" stroke="#000" stroke-width="3"/>
<line x1="421.7" y1="905.5" x2="425.7" y2="905.5" stroke="#000" stroke-width="1.7"/>
<line x1="421.7" y1="793.8" x2="425.7" y2="793.8" stroke="#000" stroke-width="1.7"/>
<line x1="421.7" y1="682.0" x2="425.7" y2="682.0" stroke="#000" stroke-width="1.7"/>
<line x1="452.3" y1="905.5" x2="452.3" y2="909.5" stroke="#111" stroke-width="2"/>
<line x1="532.0" y1="905.5" x2="532.0" y2="909.5" stroke="#111" stroke-width="2"/>
<line x1="602.8" y1="905.5" x2="602.8" y2="909.5" stroke="#111" stroke-width="2"/>
<line x1="673.6" y1="905.5" x2="673.6" y2="909.5" stroke="#111" stroke-width="2"/>
<line x1="989.3" y1="162.0" x2="989.3" y2="385.4" stroke="#000" stroke-width="3"/>
<line x1="1179.8" y1="162.0" x2="1179.8" y2="385.4" stroke="#000" stroke-width="3"/>
<line x1="927.7" y1="292.9" x2="931.7" y2="292.9" stroke="#000" stroke-width="1.7"/>
<line x1="927.7" y1="162.0" x2="931.7" y2="162.0" stroke="#000" stroke-width="1.7"/>
<line x1="989.0" y1="681.7" x2="989.0" y2="906.3" stroke="#000" stroke-width="3"/>
<line x1="1179.5" y1="681.7" x2="1179.5" y2="906.3" stroke="#000" stroke-width="3"/>
<line x1="927.4" y1="771.2" x2="931.4" y2="771.2" stroke="#000" stroke-width="1.7"/>
<line x1="927.4" y1="681.7" x2="931.4" y2="681.7" stroke="#000" stroke-width="1.7"/>
<polyline points="131.3,147.3 131.4,145.5 131.6,143.7 131.7,141.9 131.9,140.2 132.0,138.4 132.2,136.7 132.3,135.0 132.5,133.3 132.6,131.7 132.8,130.2 132.9,128.6 133.1,127.1 133.2,125.7 133.4,124.3 133.5,123.0 133.7,121.8 133.8,120.6 134.0,119.6 134.1,118.5 134.2,117.6 134.4,116.7 134.5,116.0 134.7,115.3 134.8,114.7 135.0,114.2 135.1,113.7 135.3,113.4 135.4,113.2 135.6,113.0 135.7,113.0 135.9,113.0 136.0,113.2 136.2,113.4 136.3,113.7 136.5,114.2 136.6,114.7 136.8,115.3 136.9,116.0 137.1,116.7 137.2,117.6 137.4,118.5 137.5,119.6 137.6,120.6 137.8,121.8 137.9,123.0 138.1,124.3 138.2,125.7 138.4,127.1 138.5,128.6 138.7,130.2 138.8,131.7 139.0,133.3 139.1,135.0 139.3,136.7 139.4,138.4 139.6,140.2 139.7,141.9 139.9,143.7 140.0,145.5 140.2,147.3 140.3,145.5 140.5,143.7 140.6,141.9 140.8,140.2 140.9,138.4 141.1,136.7 141.2,135.0 141.3,133.3 141.5,131.7 141.6,130.2 141.8,128.6 141.9,127.1 142.1,125.7 142.2,124.3 142.4,123.0 142.5,121.8 142.7,120.6 142.8,119.6 143.0,118.5 143.1,117.6 143.3,116.7 143.4,116.0 143.6,115.3 143.7,114.7 143.9,114.2 144.0,113.7 144.2,113.4 144.3,113.2 144.5,113.0 144.6,113.0 144.7,113.0 144.9,113.2 145.0,113.4 145.2,113.7 145.3,114.2 145.5,114.7 145.6,115.3 145.8,116.0 145.9,116.7 146.1,117.6 146.2,118.5 146.4,119.6 146.5,120.6 146.7,121.8 146.8,123.0 147.0,124.3 147.1,125.7 147.3,127.1 147.4,128.6 147.6,130.1 147.7,131.7 147.9,133.3 148.0,135.0 148.2,136.7 148.3,138.4 148.4,140.2 148.6,141.9 148.7,143.7 148.9,145.5 149.0,147.3 149.2,145.5 149.3,143.7 149.5,141.9 149.6,140.2 149.8,138.4 149.9,136.7 150.1,135.0 150.2,133.3 150.4,131.7 150.5,130.2 150.7,128.6 150.8,127.1 151.0,125.7 151.1,124.3 151.3,123.0 151.4,121.8 151.6,120.6 151.7,119.6 151.8,118.5 152.0,117.6 152.1,116.7 152.3,116.0 152.4,115.3 152.6,114.7 152.7,114.2 152.9,113.7 153.0,113.4 153.2,113.2 153.3,113.0 153.5,113.0 153.6,113.0 153.8,113.2 153.9,113.4 154.1,113.7 154.2,114.2 154.4,114.7 154.5,115.3 154.7,116.0 154.8,116.7 155.0,117.6 155.1,118.5 155.3,119.6 155.4,120.6 155.5,121.8 155.7,123.0 155.8,124.3 156.0,125.7 156.1,127.1 156.3,128.6 156.4,130.2 156.6,131.7 156.7,133.3 156.9,135.0 157.0,136.7 157.2,138.4 157.3,140.2 157.5,141.9 157.6,143.7 157.8,145.5 157.9,147.3 158.1,145.5 158.2,143.7 158.4,141.9 158.5,140.2 158.7,138.4 158.8,136.7 158.9,135.0 159.1,133.3 159.2,131.7 159.4,130.2 159.5,128.6 159.7,127.1 159.8,125.7 160.0,124.3 160.1,123.0 160.3,121.8 160.4,120.6 160.6,119.6 160.7,118.5 160.9,117.6 161.0,116.7 161.2,116.0 161.3,115.3 161.5,114.7 161.6,114.2 161.8,113.7 161.9,113.4 162.1,113.2 162.2,113.0 162.3,113.0 162.5,113.0 162.6,113.2 162.8,113.4 162.9,113.7 163.1,114.2 163.2,114.7 163.4,115.3 163.5,116.0 163.7,116.7 163.8,117.6 164.0,118.5 164.1,119.6 164.3,120.6 164.4,121.8 164.6,123.0 164.7,124.3 164.9,125.7 165.0,127.1 165.2,128.6 165.3,130.2 165.5,131.7 165.6,133.3 165.8,135.0 165.9,136.7 166.0,138.4 166.2,140.2 166.3,141.9 166.5,143.7 166.6,145.5 166.8,147.3" fill="none" stroke="#2020d2" stroke-width="3.0" stroke-linejoin="round" stroke-linecap="round"/>
<polyline points="131.3,147.3 131.5,146.3 131.7,145.4 132.0,144.4 132.2,143.5 132.4,142.6 132.6,141.7 132.8,140.8 133.1,140.0 133.3,139.3 133.5,138.6 133.7,137.9 134.0,137.3 134.2,136.8 134.4,136.3 134.6,135.9 134.8,135.6 135.1,135.3 135.3,135.1 135.5,135.0 135.7,135.0 135.9,135.0 136.2,135.1 136.4,135.3 136.6,135.6 136.8,135.9 137.1,136.3 137.3,136.8 137.5,137.3 137.7,137.9 137.9,138.6 138.2,139.3 138.4,140.0 138.6,140.8 138.8,141.7 139.1,142.6 139.3,143.5 139.5,144.4 139.7,145.4 139.9,146.3 140.2,147.3" fill="none" stroke="#c81ed8" stroke-width="2.55" stroke-linejoin="round" stroke-linecap="round"/>
<polyline points="210.6,148.2 210.9,147.3 211.2,146.2 211.5,145.1 211.8,144.0 212.1,143.0 212.4,142.0 212.7,141.0 213.0,140.1 213.3,139.3 213.6,138.6 213.9,138.1 214.3,137.6 214.6,137.3 214.9,137.1 215.2,137.0 215.5,137.1 215.8,137.3 216.1,137.6 216.4,138.1 216.7,138.6 217.0,139.3 217.3,140.1 217.6,141.0 217.9,142.0 218.2,143.0 218.5,144.0 218.9,145.1 219.2,146.2 219.5,147.3 219.8,148.2" fill="none" stroke="#808080" stroke-width="2.3" stroke-linejoin="round" stroke-linecap="round"/>
<polyline points="281.2,148.2 281.5,147.3 281.8,146.2 282.1,145.1 282.4,144.0 282.7,143.0 283.1,142.0 283.4,141.0 283.7,140.1 284.0,139.3 284.3,138.6 284.6,138.1 284.9,137.6 285.2,137.3 285.5,137.1 285.8,137.0 286.1,137.1 286.4,137.3 286.7,137.6 287.0,138.1 287.3,138.6 287.7,139.3 288.0,140.1 288.3,141.0 288.6,142.0 288.9,143.0 289.2,144.0 289.5,145.1 289.8,146.2 290.1,147.3 290.4,148.2" fill="none" stroke="#000" stroke-width="2.3" stroke-linejoin="round" stroke-linecap="round"/>
<polyline points="452.4,147.3 452.5,145.5 452.7,143.7 452.8,141.9 453.0,140.2 453.1,138.4 453.3,136.7 453.4,135.0 453.6,133.3 453.7,131.7 453.8,130.2 454.0,128.6 454.1,127.1 454.3,125.7 454.4,124.3 454.6,123.0 454.7,121.8 454.9,120.6 455.0,119.6 455.2,118.5 455.3,117.6 455.5,116.7 455.6,116.0 455.8,115.3 455.9,114.7 456.1,114.2 456.2,113.7 456.4,113.4 456.5,113.2 456.7,113.0 456.8,113.0 457.0,113.0 457.1,113.2 457.3,113.4 457.4,113.7 457.6,114.2 457.7,114.7 457.9,115.3 458.0,116.0 458.1,116.7 458.3,117.6 458.4,118.5 458.6,119.6 458.7,120.6 458.9,121.8 459.0,123.0 459.2,124.3 459.3,125.7 459.5,127.1 459.6,128.6 459.8,130.2 459.9,131.7 460.1,133.3 460.2,135.0 460.4,136.7 460.5,138.4 460.7,140.2 460.8,141.9 461.0,143.7 461.1,145.5 461.3,147.3 461.4,145.5 461.6,143.7 461.7,141.9 461.9,140.2 462.0,138.4 462.2,136.7 462.3,135.0 462.5,133.3 462.6,131.7 462.7,130.2 462.9,128.6 463.0,127.1 463.2,125.7 463.3,124.3 463.5,123.0 463.6,121.8 463.8,120.6 463.9,119.6 464.1,118.5 464.2,117.6 464.4,116.7 464.5,116.0 464.7,115.3 464.8,114.7 465.0,114.2 465.1,113.7 465.3,113.4 465.4,113.2 465.6,113.0 465.7,113.0 465.9,113.0 466.0,113.2 466.2,113.4 466.3,113.7 466.5,114.2 466.6,114.7 466.8,115.3 466.9,116.0 467.0,116.7 467.2,117.6 467.3,118.5 467.5,119.6 467.6,120.6 467.8,121.8 467.9,123.0 468.1,124.3 468.2,125.7 468.4,127.1 468.5,128.6 468.7,130.1 468.8,131.7 469.0,133.3 469.1,135.0 469.3,136.7 469.4,138.4 469.6,140.2 469.7,141.9 469.9,143.7 470.0,145.5 470.2,147.3 470.3,145.5 470.5,143.7 470.6,141.9 470.8,140.2 470.9,138.4 471.1,136.7 471.2,135.0 471.4,133.3 471.5,131.7 471.6,130.2 471.8,128.6 471.9,127.1 472.1,125.7 472.2,124.3 472.4,123.0 472.5,121.8 472.7,120.6 472.8,119.6 473.0,118.5 473.1,117.6 473.3,116.7 473.4,116.0 473.6,115.3 473.7,114.7 473.9,114.2 474.0,113.7 474.2,113.4 474.3,113.2 474.5,113.0 474.6,113.0 474.8,113.0 474.9,113.2 475.1,113.4 475.2,113.7 475.4,114.2 475.5,114.7 475.7,115.3 475.8,116.0 475.9,116.7 476.1,117.6 476.2,118.5 476.4,119.6 476.5,120.6 476.7,121.8 476.8,123.0 477.0,124.3 477.1,125.7 477.3,127.1 477.4,128.6 477.6,130.2 477.7,131.7 477.9,133.3 478.0,135.0 478.2,136.7 478.3,138.4 478.5,140.2 478.6,141.9 478.8,143.7 478.9,145.5 479.1,147.3 479.2,145.5 479.4,143.7 479.5,141.9 479.7,140.2 479.8,138.4 480.0,136.7 480.1,135.0 480.2,133.3 480.4,131.7 480.5,130.2 480.7,128.6 480.8,127.1 481.0,125.7 481.1,124.3 481.3,123.0 481.4,121.8 481.6,120.6 481.7,119.6 481.9,118.5 482.0,117.6 482.2,116.7 482.3,116.0 482.5,115.3 482.6,114.7 482.8,114.2 482.9,113.7 483.1,113.4 483.2,113.2 483.4,113.0 483.5,113.0 483.7,113.0 483.8,113.2 484.0,113.4 484.1,113.7 484.3,114.2 484.4,114.7 484.6,115.3 484.7,116.0 484.8,116.7 485.0,117.6 485.1,118.5 485.3,119.6 485.4,120.6 485.6,121.8 485.7,123.0 485.9,124.3 486.0,125.7 486.2,127.1 486.3,128.6 486.5,130.2 486.6,131.7 486.8,133.3 486.9,135.0 487.1,136.7 487.2,138.4 487.4,140.2 487.5,141.9 487.7,143.7 487.8,145.5 488.0,147.3" fill="none" stroke="#2020d2" stroke-width="3.0" stroke-linejoin="round" stroke-linecap="round"/>
<polyline points="452.4,147.3 452.6,146.3 452.8,145.4 453.0,144.4 453.3,143.5 453.5,142.6 453.7,141.7 453.9,140.8 454.1,140.0 454.4,139.3 454.6,138.6 454.8,137.9 455.0,137.3 455.3,136.8 455.5,136.3 455.7,135.9 455.9,135.6 456.1,135.3 456.4,135.1 456.6,135.0 456.8,135.0 457.0,135.0 457.3,135.1 457.5,135.3 457.7,135.6 457.9,135.9 458.1,136.3 458.4,136.8 458.6,137.3 458.8,137.9 459.0,138.6 459.3,139.3 459.5,140.0 459.7,140.8 459.9,141.7 460.2,142.6 460.4,143.5 460.6,144.4 460.8,145.4 461.0,146.3 461.3,147.3" fill="none" stroke="#c81ed8" stroke-width="2.55" stroke-linejoin="round" stroke-linecap="round"/>
<polyline points="531.9,148.2 532.2,147.3 532.5,146.2 532.8,145.1 533.1,144.0 533.4,143.0 533.7,142.0 534.0,141.0 534.3,140.1 534.6,139.3 535.0,138.6 535.3,138.1 535.6,137.6 535.9,137.3 536.2,137.1 536.5,137.0 536.8,137.1 537.1,137.3 537.4,137.6 537.7,138.1 538.0,138.6 538.3,139.3 538.6,140.1 538.9,141.0 539.2,142.0 539.6,143.0 539.9,144.0 540.2,145.1 540.5,146.2 540.8,147.3 541.1,148.2" fill="none" stroke="#808080" stroke-width="2.3" stroke-linejoin="round" stroke-linecap="round"/>
<polyline points="602.7,148.2 603.0,147.3 603.3,146.2 603.6,145.1 604.0,144.0 604.3,143.0 604.6,142.0 604.9,141.0 605.2,140.1 605.5,139.3 605.8,138.6 606.1,138.1 606.4,137.6 606.7,137.3 607.0,137.1 607.3,137.0 607.6,137.1 607.9,137.3 608.2,137.6 608.6,138.1 608.9,138.6 609.2,139.3 609.5,140.1 609.8,141.0 610.1,142.0 610.4,143.0 610.7,144.0 611.0,145.1 611.3,146.2 611.6,147.3 611.9,148.2" fill="none" stroke="#000" stroke-width="2.3" stroke-linejoin="round" stroke-linecap="round"/>
<polyline points="132.0,667.8 132.1,666.0 132.3,664.2 132.4,662.4 132.6,660.7 132.7,658.9 132.9,657.2 133.0,655.5 133.2,653.8 133.3,652.2 133.5,650.6 133.6,649.1 133.8,647.6 133.9,646.2 134.1,644.8 134.2,643.5 134.4,642.3 134.5,641.1 134.7,640.1 134.8,639.0 134.9,638.1 135.1,637.2 135.2,636.5 135.4,635.8 135.5,635.2 135.7,634.7 135.8,634.2 136.0,633.9 136.1,633.7 136.3,633.5 136.4,633.5 136.6,633.5 136.7,633.7 136.9,633.9 137.0,634.2 137.2,634.7 137.3,635.2 137.5,635.8 137.6,636.5 137.8,637.2 137.9,638.1 138.1,639.0 138.2,640.1 138.3,641.1 138.5,642.3 138.6,643.5 138.8,644.8 138.9,646.2 139.1,647.6 139.2,649.1 139.4,650.6 139.5,652.2 139.7,653.8 139.8,655.5 140.0,657.2 140.1,658.9 140.3,660.7 140.4,662.4 140.6,664.2 140.7,666.0 140.9,667.8 141.0,666.0 141.2,664.2 141.3,662.4 141.5,660.7 141.6,658.9 141.8,657.2 141.9,655.5 142.0,653.8 142.2,652.2 142.3,650.6 142.5,649.1 142.6,647.6 142.8,646.2 142.9,644.8 143.1,643.5 143.2,642.3 143.4,641.1 143.5,640.1 143.7,639.0 143.8,638.1 144.0,637.2 144.1,636.5 144.3,635.8 144.4,635.2 144.6,634.7 144.7,634.2 144.9,633.9 145.0,633.7 145.2,633.5 145.3,633.5 145.4,633.5 145.6,633.7 145.7,633.9 145.9,634.2 146.0,634.7 146.2,635.2 146.3,635.8 146.5,636.5 146.6,637.2 146.8,638.1 146.9,639.0 147.1,640.1 147.2,641.1 147.4,642.3 147.5,643.5 147.7,644.8 147.8,646.2 148.0,647.6 148.1,649.1 148.3,650.6 148.4,652.2 148.6,653.8 148.7,655.5 148.9,657.2 149.0,658.9 149.1,660.7 149.3,662.4 149.4,664.2 149.6,666.0 149.7,667.8 149.9,666.0 150.0,664.2 150.2,662.4 150.3,660.7 150.5,658.9 150.6,657.2 150.8,655.5 150.9,653.8 151.1,652.2 151.2,650.6 151.4,649.1 151.5,647.6 151.7,646.2 151.8,644.8 152.0,643.5 152.1,642.3 152.3,641.1 152.4,640.1 152.5,639.0 152.7,638.1 152.8,637.2 153.0,636.5 153.1,635.8 153.3,635.2 153.4,634.7 153.6,634.2 153.7,633.9 153.9,633.7 154.0,633.5 154.2,633.5 154.3,633.5 154.5,633.7 154.6,633.9 154.8,634.2 154.9,634.7 155.1,635.2 155.2,635.8 155.4,636.5 155.5,637.2 155.7,638.1 155.8,639.0 156.0,640.1 156.1,641.1 156.2,642.3 156.4,643.5 156.5,644.8 156.7,646.2 156.8,647.6 157.0,649.1 157.1,650.6 157.3,652.2 157.4,653.8 157.6,655.5 157.7,657.2 157.9,658.9 158.0,660.7 158.2,662.4 158.3,664.2 158.5,666.0 158.6,667.8 158.8,666.0 158.9,664.2 159.1,662.4 159.2,660.7 159.4,658.9 159.5,657.2 159.6,655.5 159.8,653.8 159.9,652.2 160.1,650.6 160.2,649.1 160.4,647.6 160.5,646.2 160.7,644.8 160.8,643.5 161.0,642.3 161.1,641.1 161.3,640.1 161.4,639.0 161.6,638.1 161.7,637.2 161.9,636.5 162.0,635.8 162.2,635.2 162.3,634.7 162.5,634.2 162.6,633.9 162.8,633.7 162.9,633.5 163.0,633.5 163.2,633.5 163.3,633.7 163.5,633.9 163.6,634.2 163.8,634.7 163.9,635.2 164.1,635.8 164.2,636.5 164.4,637.2 164.5,638.1 164.7,639.0 164.8,640.1 165.0,641.1 165.1,642.3 165.3,643.5 165.4,644.8 165.6,646.2 165.7,647.6 165.9,649.1 166.0,650.6 166.2,652.2 166.3,653.8 166.5,655.5 166.6,657.2 166.7,658.9 166.9,660.7 167.0,662.4 167.2,664.2 167.3,666.0 167.5,667.8" fill="none" stroke="#2020d2" stroke-width="3.0" stroke-linejoin="round" stroke-linecap="round"/>
<polyline points="132.0,667.8 132.2,666.8 132.4,665.9 132.7,664.9 132.9,664.0 133.1,663.1 133.3,662.2 133.5,661.3 133.8,660.5 134.0,659.8 134.2,659.1 134.4,658.4 134.7,657.8 134.9,657.3 135.1,656.8 135.3,656.4 135.5,656.1 135.8,655.8 136.0,655.6 136.2,655.5 136.4,655.5 136.6,655.5 136.9,655.6 137.1,655.8 137.3,656.1 137.5,656.4 137.8,656.8 138.0,657.3 138.2,657.8 138.4,658.4 138.6,659.1 138.9,659.8 139.1,660.5 139.3,661.3 139.5,662.2 139.8,663.1 140.0,664.0 140.2,664.9 140.4,665.9 140.6,666.8 140.9,667.8" fill="none" stroke="#c81ed8" stroke-width="2.55" stroke-linejoin="round" stroke-linecap="round"/>
<polyline points="211.3,668.7 211.6,667.8 211.9,666.7 212.2,665.6 212.5,664.5 212.8,663.5 213.1,662.5 213.4,661.5 213.7,660.6 214.0,659.8 214.3,659.1 214.6,658.6 215.0,658.1 215.3,657.8 215.6,657.6 215.9,657.5 216.2,657.6 216.5,657.8 216.8,658.1 217.1,658.6 217.4,659.1 217.7,659.8 218.0,660.6 218.3,661.5 218.6,662.5 218.9,663.5 219.2,664.5 219.6,665.6 219.9,666.7 220.2,667.8 220.5,668.7" fill="none" stroke="#808080" stroke-width="2.3" stroke-linejoin="round" stroke-linecap="round"/>
<polyline points="281.9,668.7 282.2,667.8 282.5,666.7 282.8,665.6 283.1,664.5 283.4,663.5 283.8,662.5 284.1,661.5 284.4,660.6 284.7,659.8 285.0,659.1 285.3,658.6 285.6,658.1 285.9,657.8 286.2,657.6 286.5,657.5 286.8,657.6 287.1,657.8 287.4,658.1 287.7,658.6 288.0,659.1 288.4,659.8 288.7,660.6 289.0,661.5 289.3,662.5 289.6,663.5 289.9,664.5 290.2,665.6 290.5,666.7 290.8,667.8 291.1,668.7" fill="none" stroke="#000" stroke-width="2.3" stroke-linejoin="round" stroke-linecap="round"/>
<polyline points="452.3,667.8 452.4,666.0 452.6,664.2 452.7,662.4 452.9,660.7 453.0,658.9 453.2,657.2 453.3,655.5 453.5,653.8 453.6,652.2 453.7,650.6 453.9,649.1 454.0,647.6 454.2,646.2 454.3,644.8 454.5,643.5 454.6,642.3 454.8,641.1 454.9,640.1 455.1,639.0 455.2,638.1 455.4,637.2 455.5,636.5 455.7,635.8 455.8,635.2 456.0,634.7 456.1,634.2 456.3,633.9 456.4,633.7 456.6,633.5 456.7,633.5 456.9,633.5 457.0,633.7 457.2,633.9 457.3,634.2 457.5,634.7 457.6,635.2 457.8,635.8 457.9,636.5 458.0,637.2 458.2,638.1 458.3,639.0 458.5,640.1 458.6,641.1 458.8,642.3 458.9,643.5 459.1,644.8 459.2,646.2 459.4,647.6 459.5,649.1 459.7,650.6 459.8,652.2 460.0,653.8 460.1,655.5 460.3,657.2 460.4,658.9 460.6,660.7 460.7,662.4 460.9,664.2 461.0,666.0 461.2,667.8 461.3,666.0 461.5,664.2 461.6,662.4 461.8,660.7 461.9,658.9 462.1,657.2 462.2,655.5 462.4,653.8 462.5,652.2 462.6,650.6 462.8,649.1 462.9,647.6 463.1,646.2 463.2,644.8 463.4,643.5 463.5,642.3 463.7,641.1 463.8,640.1 464.0,639.0 464.1,638.1 464.3,637.2 464.4,636.5 464.6,635.8 464.7,635.2 464.9,634.7 465.0,634.2 465.2,633.9 465.3,633.7 465.5,633.5 465.6,633.5 465.8,633.5 465.9,633.7 466.1,633.9 466.2,634.2 466.4,634.7 466.5,635.2 466.7,635.8 466.8,636.5 466.9,637.2 467.1,638.1 467.2,639.0 467.4,640.1 467.5,641.1 467.7,642.3 467.8,643.5 468.0,644.8 468.1,646.2 468.3,647.6 468.4,649.1 468.6,650.6 468.7,652.2 468.9,653.8 469.0,655.5 469.2,657.2 469.3,658.9 469.5,660.7 469.6,662.4 469.8,664.2 469.9,666.0 470.1,667.8 470.2,666.0 470.4,664.2 470.5,662.4 470.7,660.7 470.8,658.9 471.0,657.2 471.1,655.5 471.3,653.8 471.4,652.2 471.5,650.6 471.7,649.1 471.8,647.6 472.0,646.2 472.1,644.8 472.3,643.5 472.4,642.3 472.6,641.1 472.7,640.1 472.9,639.0 473.0,638.1 473.2,637.2 473.3,636.5 473.5,635.8 473.6,635.2 473.8,634.7 473.9,634.2 474.1,633.9 474.2,633.7 474.4,633.5 474.5,633.5 474.7,633.5 474.8,633.7 475.0,633.9 475.1,634.2 475.3,634.7 475.4,635.2 475.6,635.8 475.7,636.5 475.8,637.2 476.0,638.1 476.1,639.0 476.3,640.1 476.4,641.1 476.6,642.3 476.7,643.5 476.9,644.8 477.0,646.2 477.2,647.6 477.3,649.1 477.5,650.6 477.6,652.2 477.8,653.8 477.9,655.5 478.1,657.2 478.2,658.9 478.4,660.7 478.5,662.4 478.7,664.2 478.8,666.0 479.0,667.8 479.1,666.0 479.3,664.2 479.4,662.4 479.6,660.7 479.7,658.9 479.9,657.2 480.0,655.5 480.1,653.8 480.3,652.2 480.4,650.6 480.6,649.1 480.7,647.6 480.9,646.2 481.0,644.8 481.2,643.5 481.3,642.3 481.5,641.1 481.6,640.1 481.8,639.0 481.9,638.1 482.1,637.2 482.2,636.5 482.4,635.8 482.5,635.2 482.7,634.7 482.8,634.2 483.0,633.9 483.1,633.7 483.3,633.5 483.4,633.5 483.6,633.5 483.7,633.7 483.9,633.9 484.0,634.2 484.2,634.7 484.3,635.2 484.5,635.8 484.6,636.5 484.7,637.2 484.9,638.1 485.0,639.0 485.2,640.1 485.3,641.1 485.5,642.3 485.6,643.5 485.8,644.8 485.9,646.2 486.1,647.6 486.2,649.1 486.4,650.6 486.5,652.2 486.7,653.8 486.8,655.5 487.0,657.2 487.1,658.9 487.3,660.7 487.4,662.4 487.6,664.2 487.7,666.0 487.9,667.8" fill="none" stroke="#2020d2" stroke-width="3.0" stroke-linejoin="round" stroke-linecap="round"/>
<polyline points="452.3,667.8 452.5,666.8 452.7,665.9 452.9,664.9 453.2,664.0 453.4,663.1 453.6,662.2 453.8,661.3 454.0,660.5 454.3,659.8 454.5,659.1 454.7,658.4 454.9,657.8 455.2,657.3 455.4,656.8 455.6,656.4 455.8,656.1 456.0,655.8 456.3,655.6 456.5,655.5 456.7,655.5 456.9,655.5 457.2,655.6 457.4,655.8 457.6,656.1 457.8,656.4 458.0,656.8 458.3,657.3 458.5,657.8 458.7,658.4 458.9,659.1 459.2,659.8 459.4,660.5 459.6,661.3 459.8,662.2 460.1,663.1 460.3,664.0 460.5,664.9 460.7,665.9 460.9,666.8 461.2,667.8" fill="none" stroke="#c81ed8" stroke-width="2.55" stroke-linejoin="round" stroke-linecap="round"/>
<polyline points="531.8,668.7 532.1,667.8 532.4,666.7 532.7,665.6 533.0,664.5 533.3,663.5 533.6,662.5 533.9,661.5 534.2,660.6 534.5,659.8 534.9,659.1 535.2,658.6 535.5,658.1 535.8,657.8 536.1,657.6 536.4,657.5 536.7,657.6 537.0,657.8 537.3,658.1 537.6,658.6 537.9,659.1 538.2,659.8 538.5,660.6 538.8,661.5 539.1,662.5 539.5,663.5 539.8,664.5 540.1,665.6 540.4,666.7 540.7,667.8 541.0,668.7" fill="none" stroke="#808080" stroke-width="2.3" stroke-linejoin="round" stroke-linecap="round"/>
<polyline points="602.6,668.7 602.9,667.8 603.2,666.7 603.5,665.6 603.9,664.5 604.2,663.5 604.5,662.5 604.8,661.5 605.1,660.6 605.4,659.8 605.7,659.1 606.0,658.6 606.3,658.1 606.6,657.8 606.9,657.6 607.2,657.5 607.5,657.6 607.8,657.8 608.1,658.1 608.5,658.6 608.8,659.1 609.1,659.8 609.4,660.6 609.7,661.5 610.0,662.5 610.3,663.5 610.6,664.5 610.9,665.6 611.2,666.7 611.5,667.8 611.8,668.7" fill="none" stroke="#000" stroke-width="2.3" stroke-linejoin="round" stroke-linecap="round"/>
<polyline points="958.3,153.3 958.4,151.5 958.6,149.7 958.7,147.9 958.9,146.2 959.0,144.4 959.2,142.7 959.3,141.0 959.5,139.3 959.6,137.7 959.8,136.2 959.9,134.6 960.1,133.1 960.2,131.7 960.4,130.3 960.5,129.0 960.7,127.8 960.8,126.6 961.0,125.6 961.1,124.5 961.2,123.6 961.4,122.7 961.5,122.0 961.7,121.3 961.8,120.7 962.0,120.2 962.1,119.7 962.3,119.4 962.4,119.2 962.6,119.0 962.7,119.0 962.9,119.0 963.0,119.2 963.2,119.4 963.3,119.7 963.5,120.2 963.6,120.7 963.8,121.3 963.9,122.0 964.1,122.7 964.2,123.6 964.4,124.5 964.5,125.6 964.7,126.6 964.8,127.8 965.0,129.0 965.1,130.3 965.3,131.7 965.4,133.1 965.6,134.6 965.7,136.2 965.8,137.7 966.0,139.3 966.1,141.0 966.3,142.7 966.4,144.4 966.6,146.2 966.7,147.9 966.9,149.7 967.0,151.5 967.2,153.3 967.3,151.5 967.5,149.7 967.6,147.9 967.8,146.2 967.9,144.4 968.1,142.7 968.2,141.0 968.4,139.3 968.5,137.7 968.7,136.2 968.8,134.6 969.0,133.1 969.1,131.7 969.3,130.3 969.4,129.0 969.6,127.8 969.7,126.6 969.9,125.6 970.0,124.5 970.2,123.6 970.3,122.7 970.4,122.0 970.6,121.3 970.7,120.7 970.9,120.2 971.0,119.7 971.2,119.4 971.3,119.2 971.5,119.0 971.6,119.0 971.8,119.0 971.9,119.2 972.1,119.4 972.2,119.7 972.4,120.2 972.5,120.7 972.7,121.3 972.8,122.0 973.0,122.7 973.1,123.6 973.3,124.5 973.4,125.6 973.6,126.6 973.7,127.8 973.9,129.0 974.0,130.3 974.2,131.7 974.3,133.1 974.5,134.6 974.6,136.1 974.8,137.7 974.9,139.3 975.0,141.0 975.2,142.7 975.3,144.4 975.5,146.2 975.6,147.9 975.8,149.7 975.9,151.5 976.1,153.3 976.2,151.5 976.4,149.7 976.5,147.9 976.7,146.2 976.8,144.4 977.0,142.7 977.1,141.0 977.3,139.3 977.4,137.7 977.6,136.2 977.7,134.6 977.9,133.1 978.0,131.7 978.2,130.3 978.3,129.0 978.5,127.8 978.6,126.6 978.8,125.6 978.9,124.5 979.1,123.6 979.2,122.7 979.4,122.0 979.5,121.3 979.7,120.7 979.8,120.2 979.9,119.7 980.1,119.4 980.2,119.2 980.4,119.0 980.5,119.0 980.7,119.0 980.8,119.2 981.0,119.4 981.1,119.7 981.3,120.2 981.4,120.7 981.6,121.3 981.7,122.0 981.9,122.7 982.0,123.6 982.2,124.5 982.3,125.6 982.5,126.6 982.6,127.8 982.8,129.0 982.9,130.3 983.1,131.7 983.2,133.1 983.4,134.6 983.5,136.2 983.7,137.7 983.8,139.3 984.0,141.0 984.1,142.7 984.3,144.4 984.4,146.2 984.5,147.9 984.7,149.7 984.8,151.5 985.0,153.3 985.1,151.5 985.3,149.7 985.4,147.9 985.6,146.2 985.7,144.4 985.9,142.7 986.0,141.0 986.2,139.3 986.3,137.7 986.5,136.2 986.6,134.6 986.8,133.1 986.9,131.7 987.1,130.3 987.2,129.0 987.4,127.8 987.5,126.6 987.7,125.6 987.8,124.5 988.0,123.6 988.1,122.7 988.3,122.0 988.4,121.3 988.6,120.7 988.7,120.2 988.9,119.7 989.0,119.4 989.1,119.2 989.3,119.0 989.4,119.0 989.6,119.0 989.7,119.2 989.9,119.4 990.0,119.7 990.2,120.2 990.3,120.7 990.5,121.3 990.6,122.0 990.8,122.7 990.9,123.6 991.1,124.5 991.2,125.6 991.4,126.6 991.5,127.8 991.7,129.0 991.8,130.3 992.0,131.7 992.1,133.1 992.3,134.6 992.4,136.2 992.6,137.7 992.7,139.3 992.9,141.0 993.0,142.7 993.2,144.4 993.3,146.2 993.5,147.9 993.6,149.7 993.7,151.5 993.9,153.3" fill="none" stroke="#2020d2" stroke-width="2.6" stroke-linejoin="round" stroke-linecap="round"/>
<polyline points="958.3,153.3 958.5,152.3 958.7,151.4 958.9,150.4 959.2,149.5 959.4,148.6 959.6,147.7 959.8,146.8 960.1,146.0 960.3,145.3 960.5,144.6 960.7,143.9 961.0,143.3 961.2,142.8 961.4,142.3 961.6,141.9 961.8,141.6 962.1,141.3 962.3,141.1 962.5,141.0 962.7,141.0 963.0,141.0 963.2,141.1 963.4,141.3 963.6,141.6 963.8,141.9 964.1,142.3 964.3,142.8 964.5,143.3 964.7,143.9 965.0,144.6 965.2,145.3 965.4,146.0 965.6,146.8 965.8,147.7 966.1,148.6 966.3,149.5 966.5,150.4 966.7,151.4 967.0,152.3 967.2,153.3" fill="none" stroke="#c81ed8" stroke-width="2.21" stroke-linejoin="round" stroke-linecap="round"/>
<polyline points="1037.9,154.2 1038.2,153.3 1038.5,152.2 1038.8,151.1 1039.1,150.0 1039.4,149.0 1039.7,148.0 1040.0,147.0 1040.3,146.1 1040.6,145.3 1040.9,144.6 1041.2,144.1 1041.5,143.6 1041.8,143.3 1042.1,143.1 1042.5,143.0 1042.8,143.1 1043.1,143.3 1043.4,143.6 1043.7,144.1 1044.0,144.6 1044.3,145.3 1044.6,146.1 1044.9,147.0 1045.2,148.0 1045.5,149.0 1045.8,150.0 1046.1,151.1 1046.4,152.2 1046.7,153.3 1047.1,154.2" fill="none" stroke="#808080" stroke-width="2.3" stroke-linejoin="round" stroke-linecap="round"/>
<polyline points="1108.7,154.2 1109.0,153.3 1109.3,152.2 1109.7,151.1 1110.0,150.0 1110.3,149.0 1110.6,148.0 1110.9,147.0 1111.2,146.1 1111.5,145.3 1111.8,144.6 1112.1,144.1 1112.4,143.6 1112.7,143.3 1113.0,143.1 1113.3,143.0 1113.6,143.1 1113.9,143.3 1114.2,143.6 1114.6,144.1 1114.9,144.6 1115.2,145.3 1115.5,146.1 1115.8,147.0 1116.1,148.0 1116.4,149.0 1116.7,150.0 1117.0,151.1 1117.3,152.2 1117.6,153.3 1117.9,154.2" fill="none" stroke="#000" stroke-width="2.3" stroke-linejoin="round" stroke-linecap="round"/>
<polyline points="958.0,673.8 958.1,672.0 958.3,670.2 958.4,668.4 958.6,666.7 958.7,664.9 958.9,663.2 959.0,661.5 959.2,659.8 959.3,658.2 959.5,656.6 959.6,655.1 959.8,653.6 959.9,652.2 960.1,650.8 960.2,649.5 960.4,648.3 960.5,647.1 960.7,646.1 960.8,645.0 960.9,644.1 961.1,643.2 961.2,642.5 961.4,641.8 961.5,641.2 961.7,640.7 961.8,640.2 962.0,639.9 962.1,639.7 962.3,639.5 962.4,639.5 962.6,639.5 962.7,639.7 962.9,639.9 963.0,640.2 963.2,640.7 963.3,641.2 963.5,641.8 963.6,642.5 963.8,643.2 963.9,644.1 964.1,645.0 964.2,646.1 964.4,647.1 964.5,648.3 964.7,649.5 964.8,650.8 965.0,652.2 965.1,653.6 965.3,655.1 965.4,656.6 965.5,658.2 965.7,659.8 965.8,661.5 966.0,663.2 966.1,664.9 966.3,666.7 966.4,668.4 966.6,670.2 966.7,672.0 966.9,673.8 967.0,672.0 967.2,670.2 967.3,668.4 967.5,666.7 967.6,664.9 967.8,663.2 967.9,661.5 968.1,659.8 968.2,658.2 968.4,656.6 968.5,655.1 968.7,653.6 968.8,652.2 969.0,650.8 969.1,649.5 969.3,648.3 969.4,647.1 969.6,646.1 969.7,645.0 969.9,644.1 970.0,643.2 970.1,642.5 970.3,641.8 970.4,641.2 970.6,640.7 970.7,640.2 970.9,639.9 971.0,639.7 971.2,639.5 971.3,639.5 971.5,639.5 971.6,639.7 971.8,639.9 971.9,640.2 972.1,640.7 972.2,641.2 972.4,641.8 972.5,642.5 972.7,643.2 972.8,644.1 973.0,645.0 973.1,646.1 973.3,647.1 973.4,648.3 973.6,649.5 973.7,650.8 973.9,652.2 974.0,653.6 974.2,655.1 974.3,656.6 974.5,658.2 974.6,659.8 974.7,661.5 974.9,663.2 975.0,664.9 975.2,666.7 975.3,668.4 975.5,670.2 975.6,672.0 975.8,673.8 975.9,672.0 976.1,670.2 976.2,668.4 976.4,666.7 976.5,664.9 976.7,663.2 976.8,661.5 977.0,659.8 977.1,658.2 977.3,656.6 977.4,655.1 977.6,653.6 977.7,652.2 977.9,650.8 978.0,649.5 978.2,648.3 978.3,647.1 978.5,646.1 978.6,645.0 978.8,644.1 978.9,643.2 979.1,642.5 979.2,641.8 979.4,641.2 979.5,640.7 979.6,640.2 979.8,639.9 979.9,639.7 980.1,639.5 980.2,639.5 980.4,639.5 980.5,639.7 980.7,639.9 980.8,640.2 981.0,640.7 981.1,641.2 981.3,641.8 981.4,642.5 981.6,643.2 981.7,644.1 981.9,645.0 982.0,646.1 982.2,647.1 982.3,648.3 982.5,649.5 982.6,650.8 982.8,652.2 982.9,653.6 983.1,655.1 983.2,656.6 983.4,658.2 983.5,659.8 983.7,661.5 983.8,663.2 984.0,664.9 984.1,666.7 984.2,668.4 984.4,670.2 984.5,672.0 984.7,673.8 984.8,672.0 985.0,670.2 985.1,668.4 985.3,666.7 985.4,664.9 985.6,663.2 985.7,661.5 985.9,659.8 986.0,658.2 986.2,656.6 986.3,655.1 986.5,653.6 986.6,652.2 986.8,650.8 986.9,649.5 987.1,648.3 987.2,647.1 987.4,646.1 987.5,645.0 987.7,644.1 987.8,643.2 988.0,642.5 988.1,641.8 988.3,641.2 988.4,640.7 988.6,640.2 988.7,639.9 988.8,639.7 989.0,639.5 989.1,639.5 989.3,639.5 989.4,639.7 989.6,639.9 989.7,640.2 989.9,640.7 990.0,641.2 990.2,641.8 990.3,642.5 990.5,643.2 990.6,644.1 990.8,645.0 990.9,646.1 991.1,647.1 991.2,648.3 991.4,649.5 991.5,650.8 991.7,652.2 991.8,653.6 992.0,655.1 992.1,656.6 992.3,658.2 992.4,659.8 992.6,661.5 992.7,663.2 992.9,664.9 993.0,666.7 993.2,668.4 993.3,670.2 993.4,672.0 993.6,673.8" fill="none" stroke="#2020d2" stroke-width="2.6" stroke-linejoin="round" stroke-linecap="round"/>
<polyline points="958.0,673.8 958.2,672.8 958.4,671.9 958.6,670.9 958.9,670.0 959.1,669.1 959.3,668.2 959.5,667.3 959.8,666.5 960.0,665.8 960.2,665.1 960.4,664.4 960.7,663.8 960.9,663.3 961.1,662.8 961.3,662.4 961.5,662.1 961.8,661.8 962.0,661.6 962.2,661.5 962.4,661.5 962.7,661.5 962.9,661.6 963.1,661.8 963.3,662.1 963.5,662.4 963.8,662.8 964.0,663.3 964.2,663.8 964.4,664.4 964.7,665.1 964.9,665.8 965.1,666.5 965.3,667.3 965.5,668.2 965.8,669.1 966.0,670.0 966.2,670.9 966.4,671.9 966.7,672.8 966.9,673.8" fill="none" stroke="#c81ed8" stroke-width="2.21" stroke-linejoin="round" stroke-linecap="round"/>
<polyline points="1037.5,674.7 1037.9,673.8 1038.2,672.7 1038.5,671.6 1038.8,670.5 1039.1,669.5 1039.4,668.5 1039.7,667.5 1040.0,666.6 1040.3,665.8 1040.6,665.1 1040.9,664.6 1041.2,664.1 1041.5,663.8 1041.8,663.6 1042.1,663.5 1042.5,663.6 1042.8,663.8 1043.1,664.1 1043.4,664.6 1043.7,665.1 1044.0,665.8 1044.3,666.6 1044.6,667.5 1044.9,668.5 1045.2,669.5 1045.5,670.5 1045.8,671.6 1046.1,672.7 1046.4,673.8 1046.8,674.7" fill="none" stroke="#808080" stroke-width="2.3" stroke-linejoin="round" stroke-linecap="round"/>
<polyline points="1108.4,674.7 1108.7,673.8 1109.0,672.7 1109.4,671.6 1109.7,670.5 1110.0,669.5 1110.3,668.5 1110.6,667.5 1110.9,666.6 1111.2,665.8 1111.5,665.1 1111.8,664.6 1112.1,664.1 1112.4,663.8 1112.7,663.6 1113.0,663.5 1113.3,663.6 1113.6,663.8 1114.0,664.1 1114.3,664.6 1114.6,665.1 1114.9,665.8 1115.2,666.6 1115.5,667.5 1115.8,668.5 1116.1,669.5 1116.4,670.5 1116.7,671.6 1117.0,672.7 1117.3,673.8 1117.6,674.7" fill="none" stroke="#000" stroke-width="2.3" stroke-linejoin="round" stroke-linecap="round"/>
<rect x="1427.5" y="87.0" width="37.0" height="297.5" fill="#97d5f7"/>
<polygon points="1429.0,257.2 1431.0,248.5 1433.0,243.2 1435.0,236.6 1437.3,226.1 1439.5,217.3 1441.8,221.4 1444.0,219.9 1446.0,224.3 1448.0,226.2 1450.0,230.8 1452.0,234.1 1454.0,237.8 1456.0,240.7 1458.0,240.9 1460.0,244.4 1462.0,247.3 1464.0,243.5 1466.0,240.5 1468.0,236.0 1470.1,235.1 1472.1,235.2 1474.1,239.7 1476.1,232.2 1478.1,235.2 1480.1,228.5 1482.1,225.7 1484.1,223.6 1486.1,220.6 1488.1,215.9 1490.1,210.2 1492.1,205.6 1494.1,202.5 1496.1,199.3 1498.1,194.6 1500.1,201.4 1502.1,206.2 1504.1,214.9 1506.1,212.3 1508.1,219.6 1510.1,224.4 1512.1,227.9 1514.1,232.5 1516.1,236.5 1518.1,236.9 1520.1,233.9 1522.1,232.9 1524.1,225.8 1526.1,221.2 1528.1,214.6 1530.1,220.6 1532.1,224.7 1534.1,230.5 1536.1,231.4 1538.1,232.4 1540.1,235.2 1542.1,232.2 1544.1,231.4 1546.1,226.8 1548.1,228.5 1550.1,230.4 1552.1,230.8 1554.1,230.8 1556.1,232.4 1558.1,230.1 1560.1,235.0 1562.1,234.0 1564.1,233.7 1566.1,231.0 1568.1,223.6 1570.2,215.9 1572.2,214.9 1574.2,211.7 1576.2,206.1 1578.2,203.2 1580.2,202.8 1582.2,202.5 1584.2,193.9 1586.2,189.6 1588.2,184.1 1590.2,190.2 1592.2,195.1 1594.2,200.7 1596.2,201.5 1598.2,204.5 1600.2,208.7 1602.2,208.2 1604.2,213.7 1606.2,217.8 1608.2,217.5 1610.2,217.7 1612.2,217.7 1614.2,214.6 1616.2,209.6 1618.2,206.1 1620.2,203.9 1622.2,203.1 1624.2,197.2 1626.2,196.8 1628.2,190.1 1630.2,187.0 1632.2,185.9 1634.2,182.5 1636.2,182.5 1638.2,177.3 1640.2,173.1 1642.2,168.3 1644.2,162.5 1646.2,163.6 1648.2,158.3 1650.2,156.7 1652.2,153.0 1654.2,150.7 1656.2,156.2 1658.2,158.5 1660.2,158.8 1662.2,162.9 1664.2,163.6 1666.2,161.5 1668.2,163.1 1670.3,167.4 1672.3,169.0 1674.3,168.3 1676.3,167.7 1678.3,166.0 1680.5,152.5 1682.8,141.6 1685.0,150.9 1687.3,154.8 1689.5,157.3 1691.8,162.9 1694.0,157.3 1696.3,151.7 1698.3,156.3 1700.3,157.6 1702.3,162.3 1704.3,163.1 1706.3,163.4 1708.3,162.6 1710.3,164.8 1712.3,168.3 1714.3,168.6 1716.3,174.3 1718.3,177.9 1720.3,186.5 1722.6,185.6 1724.8,188.1 1724.8,248.2 1722.6,253.3 1720.3,261.8 1718.3,255.1 1716.3,247.7 1714.3,242.2 1712.3,238.2 1710.3,238.1 1708.3,234.0 1706.3,235.3 1704.3,232.9 1702.3,234.7 1700.3,227.8 1698.3,227.4 1696.3,220.5 1694.0,224.0 1691.8,229.3 1689.5,230.3 1687.3,233.0 1685.0,235.9 1682.8,237.7 1680.5,249.4 1678.3,259.0 1676.3,257.9 1674.3,256.3 1672.3,254.9 1670.3,250.1 1668.2,249.7 1666.2,248.1 1664.2,245.9 1662.2,245.4 1660.2,241.4 1658.2,237.9 1656.2,232.7 1654.2,228.6 1652.2,233.4 1650.2,234.0 1648.2,235.4 1646.2,239.7 1644.2,245.3 1642.2,248.1 1640.2,251.2 1638.2,256.5 1636.2,256.8 1634.2,263.8 1632.2,267.7 1630.2,270.2 1628.2,273.8 1626.2,274.5 1624.2,275.1 1622.2,279.9 1620.2,280.9 1618.2,283.7 1616.2,290.0 1614.2,296.5 1612.2,302.4 1610.2,296.7 1608.2,294.5 1606.2,290.5 1604.2,287.5 1602.2,284.3 1600.2,279.4 1598.2,278.2 1596.2,274.4 1594.2,273.5 1592.2,273.1 1590.2,272.9 1588.2,277.8 1586.2,279.5 1584.2,282.8 1582.2,286.1 1580.2,286.0 1578.2,287.9 1576.2,293.0 1574.2,298.0 1572.2,309.6 1570.2,318.2 1568.1,321.0 1566.1,329.3 1564.1,333.7 1562.1,333.7 1560.1,332.9 1558.1,332.0 1556.1,333.1 1554.1,335.5 1552.1,337.8 1550.1,335.8 1548.1,333.8 1546.1,332.4 1544.1,336.4 1542.1,338.9 1540.1,345.0 1538.1,348.5 1536.1,351.1 1534.1,355.1 1532.1,349.0 1530.1,343.4 1528.1,334.5 1526.1,329.1 1524.1,322.7 1522.1,319.2 1520.1,320.0 1518.1,316.1 1516.1,320.5 1514.1,319.0 1512.1,320.2 1510.1,320.3 1508.1,319.2 1506.1,315.5 1504.1,312.7 1502.1,311.1 1500.1,305.2 1498.1,298.2 1496.1,299.8 1494.1,302.5 1492.1,301.9 1490.1,299.8 1488.1,299.3 1486.1,297.4 1484.1,292.4 1482.1,289.8 1480.1,288.2 1478.1,283.5 1476.1,279.5 1474.1,279.0 1472.1,279.6 1470.1,279.0 1468.0,278.7 1466.0,285.7 1464.0,289.3 1462.0,296.0 1460.0,292.0 1458.0,293.2 1456.0,291.3 1454.0,288.1 1452.0,287.0 1450.0,287.0 1448.0,286.0 1446.0,285.4 1444.0,283.2 1441.8,286.3 1439.5,284.5 1437.3,296.0 1435.0,306.2 1433.0,309.9 1431.0,316.0 1429.0,320.2" fill="rgba(160,80,175,0.22)" stroke="none"/>
<polyline points="1429.0,257.2 1431.0,248.5 1433.0,243.2 1435.0,236.6 1437.3,226.1 1439.5,217.3 1441.8,221.4 1444.0,219.9 1446.0,224.3 1448.0,226.2 1450.0,230.8 1452.0,234.1 1454.0,237.8 1456.0,240.7 1458.0,240.9 1460.0,244.4 1462.0,247.3 1464.0,243.5 1466.0,240.5 1468.0,236.0 1470.1,235.1 1472.1,235.2 1474.1,239.7 1476.1,232.2 1478.1,235.2 1480.1,228.5 1482.1,225.7 1484.1,223.6 1486.1,220.6 1488.1,215.9 1490.1,210.2 1492.1,205.6 1494.1,202.5 1496.1,199.3 1498.1,194.6 1500.1,201.4 1502.1,206.2 1504.1,214.9 1506.1,212.3 1508.1,219.6 1510.1,224.4 1512.1,227.9 1514.1,232.5 1516.1,236.5 1518.1,236.9 1520.1,233.9 1522.1,232.9 1524.1,225.8 1526.1,221.2 1528.1,214.6 1530.1,220.6 1532.1,224.7 1534.1,230.5 1536.1,231.4 1538.1,232.4 1540.1,235.2 1542.1,232.2 1544.1,231.4 1546.1,226.8 1548.1,228.5 1550.1,230.4 1552.1,230.8 1554.1,230.8 1556.1,232.4 1558.1,230.1 1560.1,235.0 1562.1,234.0 1564.1,233.7 1566.1,231.0 1568.1,223.6 1570.2,215.9 1572.2,214.9 1574.2,211.7 1576.2,206.1 1578.2,203.2 1580.2,202.8 1582.2,202.5 1584.2,193.9 1586.2,189.6 1588.2,184.1 1590.2,190.2 1592.2,195.1 1594.2,200.7 1596.2,201.5 1598.2,204.5 1600.2,208.7 1602.2,208.2 1604.2,213.7 1606.2,217.8 1608.2,217.5 1610.2,217.7 1612.2,217.7 1614.2,214.6 1616.2,209.6 1618.2,206.1 1620.2,203.9 1622.2,203.1 1624.2,197.2 1626.2,196.8 1628.2,190.1 1630.2,187.0 1632.2,185.9 1634.2,182.5 1636.2,182.5 1638.2,177.3 1640.2,173.1 1642.2,168.3 1644.2,162.5 1646.2,163.6 1648.2,158.3 1650.2,156.7 1652.2,153.0 1654.2,150.7 1656.2,156.2 1658.2,158.5 1660.2,158.8 1662.2,162.9 1664.2,163.6 1666.2,161.5 1668.2,163.1 1670.3,167.4 1672.3,169.0 1674.3,168.3 1676.3,167.7 1678.3,166.0 1680.5,152.5 1682.8,141.6 1685.0,150.9 1687.3,154.8 1689.5,157.3 1691.8,162.9 1694.0,157.3 1696.3,151.7 1698.3,156.3 1700.3,157.6 1702.3,162.3 1704.3,163.1 1706.3,163.4 1708.3,162.6 1710.3,164.8 1712.3,168.3 1714.3,168.6 1716.3,174.3 1718.3,177.9 1720.3,186.5 1722.6,185.6 1724.8,188.1" fill="none" stroke="#c9a0d3" stroke-width="1.6" stroke-linejoin="round" stroke-linecap="round"/>
<polyline points="1429.0,320.2 1431.0,316.0 1433.0,309.9 1435.0,306.2 1437.3,296.0 1439.5,284.5 1441.8,286.3 1444.0,283.2 1446.0,285.4 1448.0,286.0 1450.0,287.0 1452.0,287.0 1454.0,288.1 1456.0,291.3 1458.0,293.2 1460.0,292.0 1462.0,296.0 1464.0,289.3 1466.0,285.7 1468.0,278.7 1470.1,279.0 1472.1,279.6 1474.1,279.0 1476.1,279.5 1478.1,283.5 1480.1,288.2 1482.1,289.8 1484.1,292.4 1486.1,297.4 1488.1,299.3 1490.1,299.8 1492.1,301.9 1494.1,302.5 1496.1,299.8 1498.1,298.2 1500.1,305.2 1502.1,311.1 1504.1,312.7 1506.1,315.5 1508.1,319.2 1510.1,320.3 1512.1,320.2 1514.1,319.0 1516.1,320.5 1518.1,316.1 1520.1,320.0 1522.1,319.2 1524.1,322.7 1526.1,329.1 1528.1,334.5 1530.1,343.4 1532.1,349.0 1534.1,355.1 1536.1,351.1 1538.1,348.5 1540.1,345.0 1542.1,338.9 1544.1,336.4 1546.1,332.4 1548.1,333.8 1550.1,335.8 1552.1,337.8 1554.1,335.5 1556.1,333.1 1558.1,332.0 1560.1,332.9 1562.1,333.7 1564.1,333.7 1566.1,329.3 1568.1,321.0 1570.2,318.2 1572.2,309.6 1574.2,298.0 1576.2,293.0 1578.2,287.9 1580.2,286.0 1582.2,286.1 1584.2,282.8 1586.2,279.5 1588.2,277.8 1590.2,272.9 1592.2,273.1 1594.2,273.5 1596.2,274.4 1598.2,278.2 1600.2,279.4 1602.2,284.3 1604.2,287.5 1606.2,290.5 1608.2,294.5 1610.2,296.7 1612.2,302.4 1614.2,296.5 1616.2,290.0 1618.2,283.7 1620.2,280.9 1622.2,279.9 1624.2,275.1 1626.2,274.5 1628.2,273.8 1630.2,270.2 1632.2,267.7 1634.2,263.8 1636.2,256.8 1638.2,256.5 1640.2,251.2 1642.2,248.1 1644.2,245.3 1646.2,239.7 1648.2,235.4 1650.2,234.0 1652.2,233.4 1654.2,228.6 1656.2,232.7 1658.2,237.9 1660.2,241.4 1662.2,245.4 1664.2,245.9 1666.2,248.1 1668.2,249.7 1670.3,250.1 1672.3,254.9 1674.3,256.3 1676.3,257.9 1678.3,259.0 1680.5,249.4 1682.8,237.7 1685.0,235.9 1687.3,233.0 1689.5,230.3 1691.8,229.3 1694.0,224.0 1696.3,220.5 1698.3,227.4 1700.3,227.8 1702.3,234.7 1704.3,232.9 1706.3,235.3 1708.3,234.0 1710.3,238.1 1712.3,238.2 1714.3,242.2 1716.3,247.7 1718.3,255.1 1720.3,261.8 1722.6,253.3 1724.8,248.2" fill="none" stroke="#c9a0d3" stroke-width="1.6" stroke-linejoin="round" stroke-linecap="round"/>
<polygon points="1429.0,284.2 1431.0,280.2 1433.0,278.6 1435.0,276.5 1437.0,270.4 1439.0,269.0 1441.0,264.3 1443.0,261.0 1445.0,257.6 1447.0,255.8 1449.0,252.0 1451.0,249.1 1453.0,243.7 1455.0,240.6 1457.0,237.6 1459.0,231.0 1461.0,223.3 1463.0,217.8 1465.0,214.1 1467.3,206.0 1469.5,193.6 1471.8,192.6 1474.1,186.7 1476.1,185.4 1478.1,183.9 1480.1,177.4 1482.3,178.4 1484.6,175.2 1486.8,180.7 1489.1,185.4 1491.3,187.9 1493.6,190.5 1495.8,199.6 1498.1,206.8 1500.3,213.5 1502.6,218.4 1504.8,222.7 1507.1,224.9 1509.3,226.7 1511.6,229.1 1513.8,228.0 1516.1,223.3 1518.1,223.0 1520.1,219.8 1522.1,218.6 1524.4,217.2 1526.6,211.9 1528.9,209.9 1531.1,207.7 1534.1,185.4 1536.4,175.5 1538.6,166.5 1540.9,156.1 1543.1,147.0 1545.4,143.7 1547.6,137.4 1549.9,135.5 1552.1,133.2 1554.4,133.5 1556.6,130.2 1558.9,136.9 1561.1,139.9 1563.4,137.7 1565.6,135.0 1567.9,136.1 1570.2,140.3 1572.4,136.4 1574.7,133.5 1576.9,144.5 1579.2,153.4 1581.4,153.9 1583.7,155.6 1585.9,153.2 1588.2,148.5 1590.4,148.2 1592.7,142.1 1594.9,141.5 1597.2,138.8 1599.4,143.8 1601.7,149.5 1603.9,149.8 1606.2,145.9 1608.2,144.0 1610.2,140.8 1612.2,139.7 1614.2,147.0 1616.2,149.9 1618.2,149.1 1620.2,150.3 1622.2,152.7 1624.2,155.3 1626.2,155.1 1628.2,154.7 1630.2,151.3 1632.2,151.2 1634.2,151.0 1636.2,147.6 1638.2,150.2 1640.2,146.9 1642.2,140.5 1644.2,143.5 1646.2,140.7 1648.2,140.3 1650.2,136.8 1652.2,135.7 1654.2,134.3 1656.2,134.6 1658.2,137.1 1660.2,141.0 1662.2,139.0 1664.2,142.3 1666.2,143.5 1668.2,143.8 1670.3,147.2 1672.3,149.2 1674.3,150.3 1676.3,152.5 1678.3,155.9 1680.3,153.0 1682.3,153.6 1684.3,151.9 1686.3,151.4 1688.3,149.5 1690.3,149.1 1692.3,147.4 1694.3,142.8 1696.3,141.4 1698.3,134.3 1700.3,132.0 1702.3,129.8 1704.3,126.4 1706.3,122.7 1708.3,123.3 1710.3,120.3 1712.3,122.3 1714.3,119.2 1716.3,118.6 1718.3,116.7 1720.3,114.2 1722.6,101.5 1724.8,86.0 1724.8,176.1 1722.6,175.3 1720.3,175.5 1718.3,177.0 1716.3,177.4 1714.3,176.5 1712.3,177.6 1710.3,180.3 1708.3,182.8 1706.3,184.2 1704.3,186.2 1702.3,188.1 1700.3,191.5 1698.3,191.1 1696.3,191.7 1694.3,196.9 1692.3,200.6 1690.3,203.7 1688.3,203.4 1686.3,204.0 1684.3,203.9 1682.3,203.3 1680.3,206.4 1678.3,208.2 1676.3,203.6 1674.3,204.4 1672.3,203.2 1670.3,201.7 1668.2,200.6 1666.2,203.7 1664.2,197.7 1662.2,198.2 1660.2,198.6 1658.2,194.9 1656.2,195.7 1654.2,198.0 1652.2,193.7 1650.2,193.1 1648.2,191.4 1646.2,190.5 1644.2,191.1 1642.2,194.3 1640.2,199.4 1638.2,199.9 1636.2,198.6 1634.2,200.2 1632.2,199.4 1630.2,201.8 1628.2,203.1 1626.2,202.0 1624.2,200.9 1622.2,198.1 1620.2,197.6 1618.2,196.6 1616.2,195.9 1614.2,194.0 1612.2,190.9 1610.2,196.2 1608.2,195.1 1606.2,201.4 1603.9,193.7 1601.7,186.2 1599.4,191.6 1597.2,196.2 1594.9,198.5 1592.7,199.5 1590.4,200.4 1588.2,198.2 1585.9,192.6 1583.7,192.8 1581.4,194.1 1579.2,193.3 1576.9,189.9 1574.7,185.8 1572.4,184.0 1570.2,181.3 1567.9,184.3 1565.6,187.9 1563.4,192.0 1561.1,190.7 1558.9,189.3 1556.6,184.7 1554.4,189.5 1552.1,188.0 1549.9,190.9 1547.6,194.8 1545.4,199.7 1543.1,208.0 1540.9,216.2 1538.6,226.3 1536.4,240.9 1534.1,250.6 1531.1,261.1 1528.9,267.9 1526.6,268.2 1524.4,271.1 1522.1,271.9 1520.1,274.3 1518.1,278.1 1516.1,277.8 1513.8,281.6 1511.6,284.3 1509.3,281.2 1507.1,279.7 1504.8,275.3 1502.6,271.4 1500.3,268.8 1498.1,262.7 1495.8,258.3 1493.6,253.0 1491.3,251.8 1489.1,245.6 1486.8,237.9 1484.6,233.3 1482.3,233.9 1480.1,230.9 1478.1,233.7 1476.1,237.4 1474.1,242.4 1471.8,245.5 1469.5,248.2 1467.3,256.1 1465.0,264.2 1463.0,268.9 1461.0,272.0 1459.0,273.3 1457.0,280.3 1455.0,282.8 1453.0,282.5 1451.0,289.0 1449.0,291.4 1447.0,296.5 1445.0,297.0 1443.0,301.6 1441.0,305.6 1439.0,311.1 1437.0,310.9 1435.0,308.8 1433.0,315.5 1431.0,317.4 1429.0,323.2" fill="rgba(200,165,90,0.24)" stroke="none"/>
<polyline points="1429.0,284.2 1431.0,280.2 1433.0,278.6 1435.0,276.5 1437.0,270.4 1439.0,269.0 1441.0,264.3 1443.0,261.0 1445.0,257.6 1447.0,255.8 1449.0,252.0 1451.0,249.1 1453.0,243.7 1455.0,240.6 1457.0,237.6 1459.0,231.0 1461.0,223.3 1463.0,217.8 1465.0,214.1 1467.3,206.0 1469.5,193.6 1471.8,192.6 1474.1,186.7 1476.1,185.4 1478.1,183.9 1480.1,177.4 1482.3,178.4 1484.6,175.2 1486.8,180.7 1489.1,185.4 1491.3,187.9 1493.6,190.5 1495.8,199.6 1498.1,206.8 1500.3,213.5 1502.6,218.4 1504.8,222.7 1507.1,224.9 1509.3,226.7 1511.6,229.1 1513.8,228.0 1516.1,223.3 1518.1,223.0 1520.1,219.8 1522.1,218.6 1524.4,217.2 1526.6,211.9 1528.9,209.9 1531.1,207.7 1534.1,185.4 1536.4,175.5 1538.6,166.5 1540.9,156.1 1543.1,147.0 1545.4,143.7 1547.6,137.4 1549.9,135.5 1552.1,133.2 1554.4,133.5 1556.6,130.2 1558.9,136.9 1561.1,139.9 1563.4,137.7 1565.6,135.0 1567.9,136.1 1570.2,140.3 1572.4,136.4 1574.7,133.5 1576.9,144.5 1579.2,153.4 1581.4,153.9 1583.7,155.6 1585.9,153.2 1588.2,148.5 1590.4,148.2 1592.7,142.1 1594.9,141.5 1597.2,138.8 1599.4,143.8 1601.7,149.5 1603.9,149.8 1606.2,145.9 1608.2,144.0 1610.2,140.8 1612.2,139.7 1614.2,147.0 1616.2,149.9 1618.2,149.1 1620.2,150.3 1622.2,152.7 1624.2,155.3 1626.2,155.1 1628.2,154.7 1630.2,151.3 1632.2,151.2 1634.2,151.0 1636.2,147.6 1638.2,150.2 1640.2,146.9 1642.2,140.5 1644.2,143.5 1646.2,140.7 1648.2,140.3 1650.2,136.8 1652.2,135.7 1654.2,134.3 1656.2,134.6 1658.2,137.1 1660.2,141.0 1662.2,139.0 1664.2,142.3 1666.2,143.5 1668.2,143.8 1670.3,147.2 1672.3,149.2 1674.3,150.3 1676.3,152.5 1678.3,155.9 1680.3,153.0 1682.3,153.6 1684.3,151.9 1686.3,151.4 1688.3,149.5 1690.3,149.1 1692.3,147.4 1694.3,142.8 1696.3,141.4 1698.3,134.3 1700.3,132.0 1702.3,129.8 1704.3,126.4 1706.3,122.7 1708.3,123.3 1710.3,120.3 1712.3,122.3 1714.3,119.2 1716.3,118.6 1718.3,116.7 1720.3,114.2 1722.6,101.5 1724.8,86.0" fill="none" stroke="#e0cc98" stroke-width="1.6" stroke-linejoin="round" stroke-linecap="round"/>
<polyline points="1429.0,323.2 1431.0,317.4 1433.0,315.5 1435.0,308.8 1437.0,310.9 1439.0,311.1 1441.0,305.6 1443.0,301.6 1445.0,297.0 1447.0,296.5 1449.0,291.4 1451.0,289.0 1453.0,282.5 1455.0,282.8 1457.0,280.3 1459.0,273.3 1461.0,272.0 1463.0,268.9 1465.0,264.2 1467.3,256.1 1469.5,248.2 1471.8,245.5 1474.1,242.4 1476.1,237.4 1478.1,233.7 1480.1,230.9 1482.3,233.9 1484.6,233.3 1486.8,237.9 1489.1,245.6 1491.3,251.8 1493.6,253.0 1495.8,258.3 1498.1,262.7 1500.3,268.8 1502.6,271.4 1504.8,275.3 1507.1,279.7 1509.3,281.2 1511.6,284.3 1513.8,281.6 1516.1,277.8 1518.1,278.1 1520.1,274.3 1522.1,271.9 1524.4,271.1 1526.6,268.2 1528.9,267.9 1531.1,261.1 1534.1,250.6 1536.4,240.9 1538.6,226.3 1540.9,216.2 1543.1,208.0 1545.4,199.7 1547.6,194.8 1549.9,190.9 1552.1,188.0 1554.4,189.5 1556.6,184.7 1558.9,189.3 1561.1,190.7 1563.4,192.0 1565.6,187.9 1567.9,184.3 1570.2,181.3 1572.4,184.0 1574.7,185.8 1576.9,189.9 1579.2,193.3 1581.4,194.1 1583.7,192.8 1585.9,192.6 1588.2,198.2 1590.4,200.4 1592.7,199.5 1594.9,198.5 1597.2,196.2 1599.4,191.6 1601.7,186.2 1603.9,193.7 1606.2,201.4 1608.2,195.1 1610.2,196.2 1612.2,190.9 1614.2,194.0 1616.2,195.9 1618.2,196.6 1620.2,197.6 1622.2,198.1 1624.2,200.9 1626.2,202.0 1628.2,203.1 1630.2,201.8 1632.2,199.4 1634.2,200.2 1636.2,198.6 1638.2,199.9 1640.2,199.4 1642.2,194.3 1644.2,191.1 1646.2,190.5 1648.2,191.4 1650.2,193.1 1652.2,193.7 1654.2,198.0 1656.2,195.7 1658.2,194.9 1660.2,198.6 1662.2,198.2 1664.2,197.7 1666.2,203.7 1668.2,200.6 1670.3,201.7 1672.3,203.2 1674.3,204.4 1676.3,203.6 1678.3,208.2 1680.3,206.4 1682.3,203.3 1684.3,203.9 1686.3,204.0 1688.3,203.4 1690.3,203.7 1692.3,200.6 1694.3,196.9 1696.3,191.7 1698.3,191.1 1700.3,191.5 1702.3,188.1 1704.3,186.2 1706.3,184.2 1708.3,182.8 1710.3,180.3 1712.3,177.6 1714.3,176.5 1716.3,177.4 1718.3,177.0 1720.3,175.5 1722.6,175.3 1724.8,176.1" fill="none" stroke="#e0cc98" stroke-width="1.6" stroke-linejoin="round" stroke-linecap="round"/>
<line x1="1427.5" y1="265.2" x2="1725.5" y2="265.2" stroke="#000" stroke-width="3.6"/>
<polyline points="1429.0,287.2 1431.3,275.9 1433.5,266.6 1436.5,248.8 1439.5,239.7 1441.8,241.5 1444.0,244.9 1446.3,248.8 1448.5,255.5 1450.8,257.5 1453.0,259.9 1455.3,262.4 1457.5,265.9 1459.8,268.3 1462.0,270.9 1465.0,278.7 1467.3,266.3 1469.5,252.0 1472.6,250.8 1474.8,256.3 1477.1,258.2 1479.3,263.8 1481.6,267.0 1483.8,263.8 1486.1,262.7 1488.3,265.0 1490.6,268.7 1493.6,250.4 1496.6,247.3 1499.6,252.5 1501.8,257.4 1504.1,260.3 1506.3,264.3 1508.6,270.7 1510.8,277.7 1513.1,278.3 1515.3,280.3 1517.6,284.8 1519.8,279.2 1522.1,272.0 1524.4,271.4 1526.6,268.2 1528.9,275.3 1531.1,285.3 1533.4,288.9 1535.6,289.7 1537.9,293.5 1540.1,297.4 1542.4,291.6 1544.6,288.2 1546.9,288.6 1549.1,290.3 1551.4,288.6 1553.6,284.7 1555.9,288.6 1558.1,289.8 1560.4,290.2 1562.6,294.8 1564.9,282.8 1567.1,272.1 1569.4,267.4 1571.7,261.6 1573.9,255.5 1576.2,254.5 1578.4,250.0 1580.7,245.2 1582.9,238.0 1585.2,232.7 1587.4,228.6 1589.7,229.3 1591.9,233.0 1594.2,241.5 1596.4,236.1 1598.7,232.1 1600.9,235.7 1603.2,240.3 1605.4,248.5 1607.7,252.9 1609.9,261.7 1612.2,268.9 1614.4,256.6 1616.7,240.6 1618.9,239.1 1621.2,235.9 1623.5,238.2 1625.7,237.0 1628.0,234.7 1630.2,230.3 1632.5,229.0 1634.7,228.0 1637.0,222.9 1639.2,214.9 1641.5,210.6 1643.7,206.9 1646.0,203.2 1648.2,197.4 1650.5,193.6 1652.7,190.2 1655.0,198.0 1657.2,209.3 1659.5,208.2 1661.7,203.5 1664.0,206.6 1666.2,209.8 1668.5,209.9 1670.8,214.7 1673.0,215.4 1675.3,217.3 1677.5,212.5 1679.8,207.2 1682.8,186.5 1685.0,193.3 1687.3,200.3 1689.5,203.4 1691.8,207.4 1694.0,195.7 1696.3,184.0 1698.5,189.6 1700.8,194.8 1703.0,198.6 1705.3,203.0 1707.5,204.2 1709.8,206.6 1712.0,207.3 1714.3,207.4 1716.5,214.9 1718.8,220.7 1721.1,219.5 1723.3,218.1" fill="none" stroke="#85108a" stroke-width="5" stroke-linejoin="round" stroke-linecap="round"/>
<polyline points="1429.0,308.2 1431.3,303.3 1433.5,296.7 1435.8,294.7 1438.0,294.4 1440.3,291.6 1442.5,292.4 1444.8,282.5 1447.0,277.5 1449.3,273.3 1451.5,265.6 1453.8,261.1 1456.0,257.3 1458.3,252.8 1460.5,247.8 1462.8,244.7 1465.0,242.7 1467.3,233.0 1469.5,222.9 1472.6,216.8 1474.8,212.1 1477.1,207.8 1479.3,201.3 1481.6,200.1 1483.8,204.0 1486.1,202.7 1488.3,206.0 1490.6,212.9 1492.8,218.0 1495.1,223.6 1497.3,232.8 1499.6,238.8 1501.8,243.0 1504.1,245.9 1506.1,250.5 1508.1,253.4 1510.1,253.8 1512.3,253.0 1514.6,250.1 1516.8,248.5 1519.1,247.7 1521.4,245.7 1523.6,243.7 1525.9,238.8 1528.1,236.3 1530.4,233.9 1532.6,232.0 1535.6,219.9 1538.6,201.4 1540.9,190.0 1543.1,182.7 1545.4,175.4 1547.6,170.9 1549.9,169.6 1552.1,162.7 1554.4,166.6 1556.6,169.3 1558.9,167.1 1561.1,163.7 1563.4,164.4 1565.6,166.4 1567.9,165.3 1570.2,168.0 1573.2,159.4 1575.4,161.4 1577.7,164.5 1579.9,167.9 1582.2,170.8 1584.4,172.3 1586.7,176.5 1588.9,176.6 1591.2,179.9 1593.4,175.3 1595.7,170.4 1597.9,167.6 1600.2,163.3 1602.4,168.6 1604.7,176.8 1606.9,173.2 1609.2,166.6 1611.4,170.0 1613.7,174.5 1615.9,175.6 1618.2,177.8 1620.5,176.5 1622.7,178.8 1625.0,177.4 1627.2,176.1 1629.5,174.2 1631.7,173.2 1634.0,175.6 1636.2,180.3 1638.5,172.9 1640.7,167.2 1643.0,164.6 1645.2,160.9 1647.5,167.3 1649.7,170.0 1652.0,169.0 1654.2,167.1 1656.5,163.4 1658.7,161.5 1661.0,163.2 1663.2,164.6 1665.5,169.2 1667.7,173.3 1670.0,174.7 1672.3,176.9 1674.5,175.3 1676.8,174.9 1679.0,175.1 1681.3,178.5 1683.5,180.4 1685.8,182.9 1688.0,181.0 1690.3,179.2 1692.5,176.7 1694.8,172.4 1697.0,169.0 1699.3,164.5 1701.5,160.8 1703.8,157.2 1706.0,156.5 1708.3,152.0 1710.5,150.0 1712.8,149.1 1715.0,147.7 1717.3,145.0 1719.5,145.2 1721.8,145.4 1724.8,107.0" fill="none" stroke="#bd8a24" stroke-width="5" stroke-linejoin="round" stroke-linecap="round"/>
<line x1="1427.5" y1="87.0" x2="1427.5" y2="385.5" stroke="#000" stroke-width="2"/>
<line x1="1426.5" y1="384.5" x2="1725.5" y2="384.5" stroke="#000" stroke-width="2"/>
<line x1="1427.5" y1="87.0" x2="1432.0" y2="87.0" stroke="#000" stroke-width="2"/>
<line x1="1725.5" y1="384.5" x2="1725.5" y2="380.5" stroke="#000" stroke-width="2"/>
<text x="1575" y="54.5" font-size="29.5" fill="#000" text-anchor="middle">Distractor impact</text>
<text x="1418.5" y="97.8" font-size="29.5" fill="#000" text-anchor="end">0.15</text>
<text x="1422" y="276.5" font-size="29.5" fill="#000" text-anchor="end">0</text>
<text x="1419" y="421.5" font-size="29.5" fill="#000" text-anchor="middle">0</text>
<text x="1723.5" y="421.5" font-size="29.5" fill="#000" text-anchor="middle">0.8</text>
<text x="1571.5" y="433.6" font-size="29.5" fill="#000" text-anchor="middle">Time relative</text>
<text x="1579.5" y="473.8" font-size="29.5" fill="#000" text-anchor="middle">to distractor onset (s)</text>
<text x="1814.5" y="139" font-size="29.5" fill="#b4892e" text-anchor="middle">Distractor</text>
<text x="1813.5" y="178.3" font-size="29.5" fill="#b4892e" text-anchor="middle">naive</text>
<text x="1814.5" y="257.7" font-size="29.5" fill="#761278" text-anchor="middle">Distractor</text>
<text x="1813.5" y="296.5" font-size="29.5" fill="#761278" text-anchor="middle">trained</text>
<text transform="translate(1328.5,265) rotate(-90)" font-size="29.5" text-anchor="middle">Impact on</text>
<text transform="translate(1369,266) rotate(-90)" font-size="29.5" text-anchor="middle" xml:space="preserve">Choice mode  (a.u.)</text>
<text x="1683.5" y="585.3" font-size="29.5" fill="#000" text-anchor="middle">Experience can shape</text>
<text x="1685" y="624.8" font-size="29.5" fill="#000" text-anchor="middle">the attraction basins</text>
<text x="1472.5" y="695.9" font-size="29.5" fill="#b4892e" text-anchor="middle">Distractor-naive</text>
<text x="1468" y="729.7" font-size="29.5" fill="#b4892e" text-anchor="middle">mice</text>
<text x="1876.5" y="684.4" font-size="29.5" fill="#761278" text-anchor="middle">Disractor-trained</text>
<text x="1880.5" y="718.7" font-size="29.5" fill="#761278" text-anchor="middle">mice</text>
<text x="1465" y="960.4" font-size="29.5" fill="#000" text-anchor="middle">Choice mode</text>
<text x="1876" y="961.4" font-size="29.5" fill="#000" text-anchor="middle">Choice mode</text>
<text x="1685.5" y="990.8" font-size="29.5" fill="#000" text-anchor="middle">Training</text>
<polyline points="1369.9,741.6 1370.2,743.1 1370.5,745.1 1371.0,747.4 1371.4,749.9 1371.9,752.7 1372.5,755.7 1373.1,758.8 1373.6,761.9 1374.2,765.0 1374.8,768.0 1375.4,771.1 1376.0,774.3 1376.7,777.6 1377.3,781.0 1378.0,784.5 1378.7,787.9 1379.4,791.3 1380.1,794.6 1380.7,797.8 1381.4,800.9 1382.1,803.8 1382.7,806.7 1383.4,809.5 1384.0,812.2 1384.7,814.8 1385.4,817.4 1386.0,820.0 1386.7,822.4 1387.3,824.9 1388.0,827.3 1388.7,829.6 1389.3,831.9 1389.9,834.1 1390.6,836.2 1391.2,838.3 1391.8,840.4 1392.5,842.4 1393.2,844.5 1393.9,846.6 1394.6,848.7 1395.4,850.9 1396.2,853.0 1397.0,855.2 1397.8,857.5 1398.6,859.7 1399.5,861.8 1400.4,864.0 1401.2,866.1 1402.1,868.2 1402.9,870.2 1403.7,872.2 1404.5,874.2 1405.4,876.2 1406.2,878.2 1407.0,880.1 1407.8,882.0 1408.6,883.8 1409.5,885.4 1410.3,886.9 1411.1,888.3 1411.9,889.5 1412.8,890.6 1413.6,891.5 1414.5,892.3 1415.3,893.0 1416.1,893.6 1417.0,894.2 1417.8,894.7 1418.5,895.2 1419.3,895.7 1420.0,896.1 1420.7,896.5 1421.4,896.8 1422.0,897.1 1422.7,897.3 1423.3,897.4 1423.9,897.5 1424.6,897.6 1425.2,897.6 1425.9,897.6 1426.6,897.6 1427.3,897.5 1428.0,897.5 1428.7,897.4 1429.4,897.3 1430.1,897.1 1430.8,896.8 1431.6,896.4 1432.4,895.8 1433.2,895.2 1434.0,894.4 1434.9,893.5 1435.8,892.5 1436.8,891.4 1437.7,890.2 1438.7,889.0 1439.6,887.6 1440.6,886.2 1441.5,884.8 1442.4,883.3 1443.3,881.7 1444.1,880.0 1445.0,878.2 1445.8,876.3 1446.6,874.4 1447.4,872.5 1448.2,870.6 1449.1,868.7 1449.9,866.9 1450.7,865.2 1451.5,863.5 1452.4,861.9 1453.2,860.2 1454.1,858.6 1454.9,857.0 1455.8,855.5 1456.6,854.0 1457.4,852.7 1458.2,851.5 1458.9,850.4 1459.6,849.5 1460.2,848.7 1460.9,848.0 1461.5,847.4 1462.0,847.0 1462.6,846.5 1463.2,846.2 1463.8,845.8 1464.4,845.5 1465.0,845.2 1465.7,844.9 1466.3,844.6 1467.0,844.4 1467.7,844.3 1468.4,844.1 1469.1,844.0 1469.8,844.0 1470.5,843.9 1471.2,843.9 1471.9,843.9 1472.6,843.9 1473.3,843.9 1474.0,844.0 1474.7,844.0 1475.4,844.1 1476.1,844.3 1476.8,844.4 1477.5,844.6 1478.1,844.9 1478.8,845.2 1479.4,845.5 1480.0,845.8 1480.6,846.2 1481.2,846.5 1481.8,847.0 1482.3,847.4 1482.9,848.0 1483.6,848.7 1484.2,849.5 1484.9,850.4 1485.6,851.5 1486.4,852.7 1487.2,854.0 1488.0,855.5 1488.9,857.0 1489.7,858.6 1490.6,860.2 1491.4,861.9 1492.3,863.5 1493.1,865.2 1493.9,866.9 1494.7,868.7 1495.6,870.6 1496.4,872.5 1497.2,874.4 1498.0,876.3 1498.8,878.2 1499.7,880.0 1500.5,881.7 1501.4,883.3 1502.3,884.8 1503.2,886.2 1504.2,887.6 1505.1,889.0 1506.1,890.2 1507.0,891.4 1508.0,892.5 1508.9,893.5 1509.8,894.4 1510.6,895.2 1511.4,895.8 1512.2,896.4 1513.0,896.8 1513.7,897.1 1514.4,897.3 1515.1,897.4 1515.8,897.5 1516.5,897.5 1517.2,897.6 1517.9,897.6 1518.6,897.6 1519.2,897.6 1519.9,897.5 1520.5,897.4 1521.1,897.3 1521.8,897.1 1522.4,896.8 1523.1,896.5 1523.8,896.1 1524.5,895.7 1525.3,895.2 1526.0,894.7 1526.8,894.2 1527.7,893.6 1528.5,893.0 1529.3,892.3 1530.2,891.5 1531.0,890.6 1531.9,889.5 1532.7,888.3 1533.5,886.9 1534.3,885.4 1535.2,883.8 1536.0,882.0 1536.8,880.1 1537.6,878.2 1538.4,876.2 1539.3,874.2 1540.1,872.2 1540.9,870.2 1541.7,868.2 1542.6,866.1 1543.4,864.0 1544.3,861.8 1545.2,859.7 1546.0,857.5 1546.8,855.2 1547.6,853.0 1548.4,850.9 1549.2,848.7 1549.9,846.6 1550.6,844.5 1551.3,842.4 1552.0,840.4 1552.6,838.3 1553.2,836.2 1553.9,834.1 1554.5,831.9 1555.1,829.6 1555.8,827.3 1556.5,824.9 1557.1,822.4 1557.8,820.0 1558.4,817.4 1559.1,814.8 1559.8,812.2 1560.4,809.5 1561.1,806.7 1561.7,803.8 1562.4,800.9 1563.1,797.8 1563.7,794.6 1564.4,791.3 1565.1,787.9 1565.8,784.5 1566.5,781.0 1567.1,777.6 1567.8,774.3 1568.4,771.1 1569.0,768.0 1569.6,765.0 1570.2,761.9 1570.7,758.8 1571.3,755.7 1571.9,752.7 1572.4,749.9 1572.8,747.4 1573.3,745.1 1573.6,743.1 1573.9,741.6" fill="none" stroke="#000" stroke-width="3" stroke-linejoin="round" stroke-linecap="round"/>
<polyline points="1773.2,748.2 1773.4,750.2 1773.6,752.7 1773.9,755.7 1774.2,759.0 1774.6,762.6 1775.0,766.4 1775.3,770.3 1775.7,774.1 1776.1,777.8 1776.5,781.2 1776.9,784.5 1777.3,787.9 1777.7,791.2 1778.1,794.6 1778.5,798.0 1778.9,801.3 1779.4,804.6 1779.8,807.8 1780.2,811.0 1780.7,814.1 1781.2,817.1 1781.6,820.0 1782.1,822.9 1782.6,825.7 1783.0,828.4 1783.5,831.1 1784.0,833.9 1784.6,836.6 1785.1,839.3 1785.6,842.1 1786.1,844.9 1786.7,847.8 1787.2,850.7 1787.8,853.5 1788.4,856.4 1789.0,859.3 1789.6,862.1 1790.2,864.8 1790.8,867.5 1791.4,870.1 1792.0,872.7 1792.6,875.3 1793.3,877.8 1793.9,880.4 1794.5,882.8 1795.2,885.2 1795.9,887.5 1796.6,889.6 1797.3,891.5 1798.0,893.2 1798.8,894.7 1799.5,896.2 1800.3,897.4 1801.2,898.6 1802.0,899.6 1802.8,900.4 1803.7,901.1 1804.5,901.7 1805.4,902.1 1806.2,902.3 1807.0,902.4 1807.9,902.2 1808.7,901.9 1809.6,901.4 1810.4,900.8 1811.2,900.1 1812.1,899.3 1812.9,898.4 1813.6,897.4 1814.4,896.5 1815.1,895.5 1815.8,894.4 1816.5,893.2 1817.2,892.0 1817.8,890.7 1818.4,889.3 1819.1,887.9 1819.7,886.4 1820.3,884.9 1821.0,883.3 1821.7,881.7 1822.3,880.1 1822.9,878.4 1823.6,876.7 1824.2,874.9 1824.8,873.0 1825.5,871.2 1826.2,869.2 1826.9,867.2 1827.6,865.2 1828.4,863.1 1829.1,860.9 1829.9,858.6 1830.8,856.2 1831.6,853.9 1832.4,851.5 1833.3,849.1 1834.1,846.7 1835.0,844.4 1835.8,842.1 1836.6,839.9 1837.5,837.7 1838.3,835.5 1839.1,833.3 1839.9,831.2 1840.8,829.1 1841.6,826.9 1842.4,824.8 1843.3,822.8 1844.1,820.7 1844.9,818.7 1845.7,816.6 1846.6,814.6 1847.4,812.6 1848.2,810.7 1849.0,808.7 1849.8,806.7 1850.7,804.8 1851.5,802.9 1852.3,801.0 1853.1,799.1 1854.0,797.2 1854.8,795.3 1855.6,793.4 1856.4,791.6 1857.3,789.8 1858.1,788.0 1858.9,786.2 1859.8,784.5 1860.6,782.8 1861.4,781.2 1862.2,779.5 1863.1,778.0 1863.9,776.4 1864.7,774.9 1865.5,773.4 1866.3,772.0 1867.2,770.6 1868.0,769.3 1868.8,768.0 1869.6,766.8 1870.5,765.6 1871.3,764.4 1872.2,763.3 1873.0,762.3 1873.8,761.3 1874.7,760.4 1875.5,759.5 1876.2,758.8 1877.0,758.1 1877.7,757.5 1878.4,757.1 1879.0,756.7 1879.7,756.3 1880.3,756.1 1880.9,755.9 1881.5,755.8 1882.2,755.7 1882.9,755.7 1883.6,755.7 1884.4,755.8 1885.2,755.9 1886.0,756.1 1886.8,756.3 1887.6,756.6 1888.5,756.9 1889.4,757.3 1890.2,757.8 1891.1,758.3 1891.9,758.9 1892.7,759.5 1893.5,760.3 1894.4,761.0 1895.2,761.8 1896.0,762.7 1896.8,763.7 1897.7,764.7 1898.5,765.7 1899.3,766.8 1900.1,768.0 1900.9,769.2 1901.7,770.5 1902.5,771.9 1903.3,773.4 1904.1,774.8 1905.0,776.4 1905.8,777.9 1906.6,779.5 1907.4,781.2 1908.2,782.8 1909.0,784.5 1909.8,786.2 1910.7,787.9 1911.5,789.7 1912.3,791.5 1913.2,793.4 1914.0,795.2 1914.8,797.1 1915.7,799.0 1916.5,800.9 1917.3,802.8 1918.1,804.8 1919.0,806.7 1919.8,808.7 1920.6,810.7 1921.4,812.7 1922.2,814.7 1923.1,816.7 1923.9,818.7 1924.7,820.7 1925.5,822.7 1926.3,824.6 1927.2,826.6 1928.0,828.6 1928.8,830.6 1929.6,832.5 1930.4,834.5 1931.3,836.5 1932.1,838.4 1932.9,840.4 1933.7,842.4 1934.6,844.3 1935.4,846.3 1936.2,848.2 1937.0,850.2 1937.9,852.2 1938.7,854.1 1939.5,856.1 1940.4,858.2 1941.2,860.2 1942.0,862.3 1942.9,864.5 1943.7,866.7 1944.6,869.0 1945.4,871.2 1946.3,873.4 1947.1,875.6 1947.9,877.7 1948.7,879.7 1949.4,881.6 1950.1,883.4 1950.8,885.2 1951.4,886.9 1952.1,888.5 1952.7,890.1 1953.3,891.6 1953.9,893.0 1954.4,894.3 1955.0,895.4 1955.6,896.5 1956.2,897.4 1956.7,898.3 1957.3,899.0 1957.8,899.6 1958.3,900.2 1958.8,900.6 1959.3,900.9 1959.8,901.2 1960.4,901.3 1960.9,901.4 1961.4,901.4 1962.0,901.3 1962.5,901.0 1963.0,900.7 1963.5,900.3 1964.1,899.8 1964.6,899.3 1965.2,898.6 1965.7,897.9 1966.3,897.1 1966.9,896.2 1967.5,895.3 1968.1,894.4 1968.7,893.3 1969.3,892.2 1970.0,890.9 1970.6,889.6 1971.2,888.2 1971.9,886.6 1972.5,884.9 1973.1,883.1 1973.8,881.1 1974.5,879.0 1975.2,876.8 1975.8,874.5 1976.5,872.1 1977.2,869.6 1977.8,867.1 1978.4,864.5 1979.0,861.9 1979.6,859.2 1980.1,856.4 1980.6,853.5 1981.2,850.5 1981.6,847.5 1982.1,844.4 1982.6,841.3 1983.1,838.2 1983.5,835.2 1984.0,832.2 1984.5,829.2 1984.9,826.3 1985.3,823.3 1985.7,820.4 1986.2,817.4 1986.6,814.4 1987.0,811.5 1987.3,808.5 1987.7,805.6 1988.1,802.6 1988.5,799.6 1988.8,796.6 1989.2,793.6 1989.5,790.5 1989.9,787.5 1990.2,784.5 1990.5,781.5 1990.8,778.6 1991.1,775.8 1991.4,773.0 1991.7,770.2 1991.9,767.3 1992.2,764.4 1992.4,761.5 1992.7,758.8 1992.9,756.1 1993.1,753.7 1993.2,751.5 1993.4,749.7 1993.5,748.2" fill="none" stroke="#000" stroke-width="3" stroke-linejoin="round" stroke-linecap="round"/>
<circle cx="1426.1" cy="883.8" r="12.9" fill="#ee2a2a" stroke="#fff" stroke-width="1"/>
<circle cx="1516.8" cy="883.6" r="12.9" fill="#1c1cf0" stroke="#fff" stroke-width="1"/>
<circle cx="1806.9" cy="885.6" r="13" fill="#ee2a2a" stroke="#fff" stroke-width="1"/>
<line x1="1342.6" y1="911.8" x2="1600.3" y2="912.2" stroke="#000" stroke-width="2"/>
<path d="M1591.3,906.7 L1602.3,912.2 L1591.3,917.7" fill="none" stroke="#000" stroke-width="2"/>
<line x1="1754.5" y1="913.2" x2="2011.3" y2="913.8" stroke="#000" stroke-width="2"/>
<path d="M2002.3,908.3 L2013.3,913.8 L2002.3,919.3" fill="none" stroke="#000" stroke-width="2"/>
<path d="M1427.9,867 C1427.5,848 1445,839 1458,836.8" fill="none" stroke="#000" stroke-width="3.1"/>
<polygon points="1465.7,835.4 1454.8,842.8 1457.4,836.9 1452.9,832.2" fill="#000"/>
<path d="M1506.4,839.5 C1512,846 1517,852 1518.5,858" fill="none" stroke="#000" stroke-width="3.1"/>
<polygon points="1521.0,866.7 1512.7,856.5 1518.8,858.6 1523.1,853.7" fill="#000"/>
<path d="M1799.7,868 C1799,840 1803,820 1818,809" fill="none" stroke="#000" stroke-width="3.1"/>
<polygon points="1825.3,804.6 1819.6,816.5 1818.9,810.0 1812.6,808.2" fill="#000"/>
<path d="M1835,810.4 C1832,835 1826,850 1818,862" fill="none" stroke="#000" stroke-width="3.1"/>
<polygon points="1812.7,868.6 1815.2,855.7 1817.5,861.7 1824.0,861.9" fill="#000"/>
<rect x="1574.7" y="1014.0" width="210.3" height="8.0" fill="#000"/>
<polygon points="1784,1005.6 1806.4,1018 1784,1030.4" fill="#000"/></svg></body></html>
